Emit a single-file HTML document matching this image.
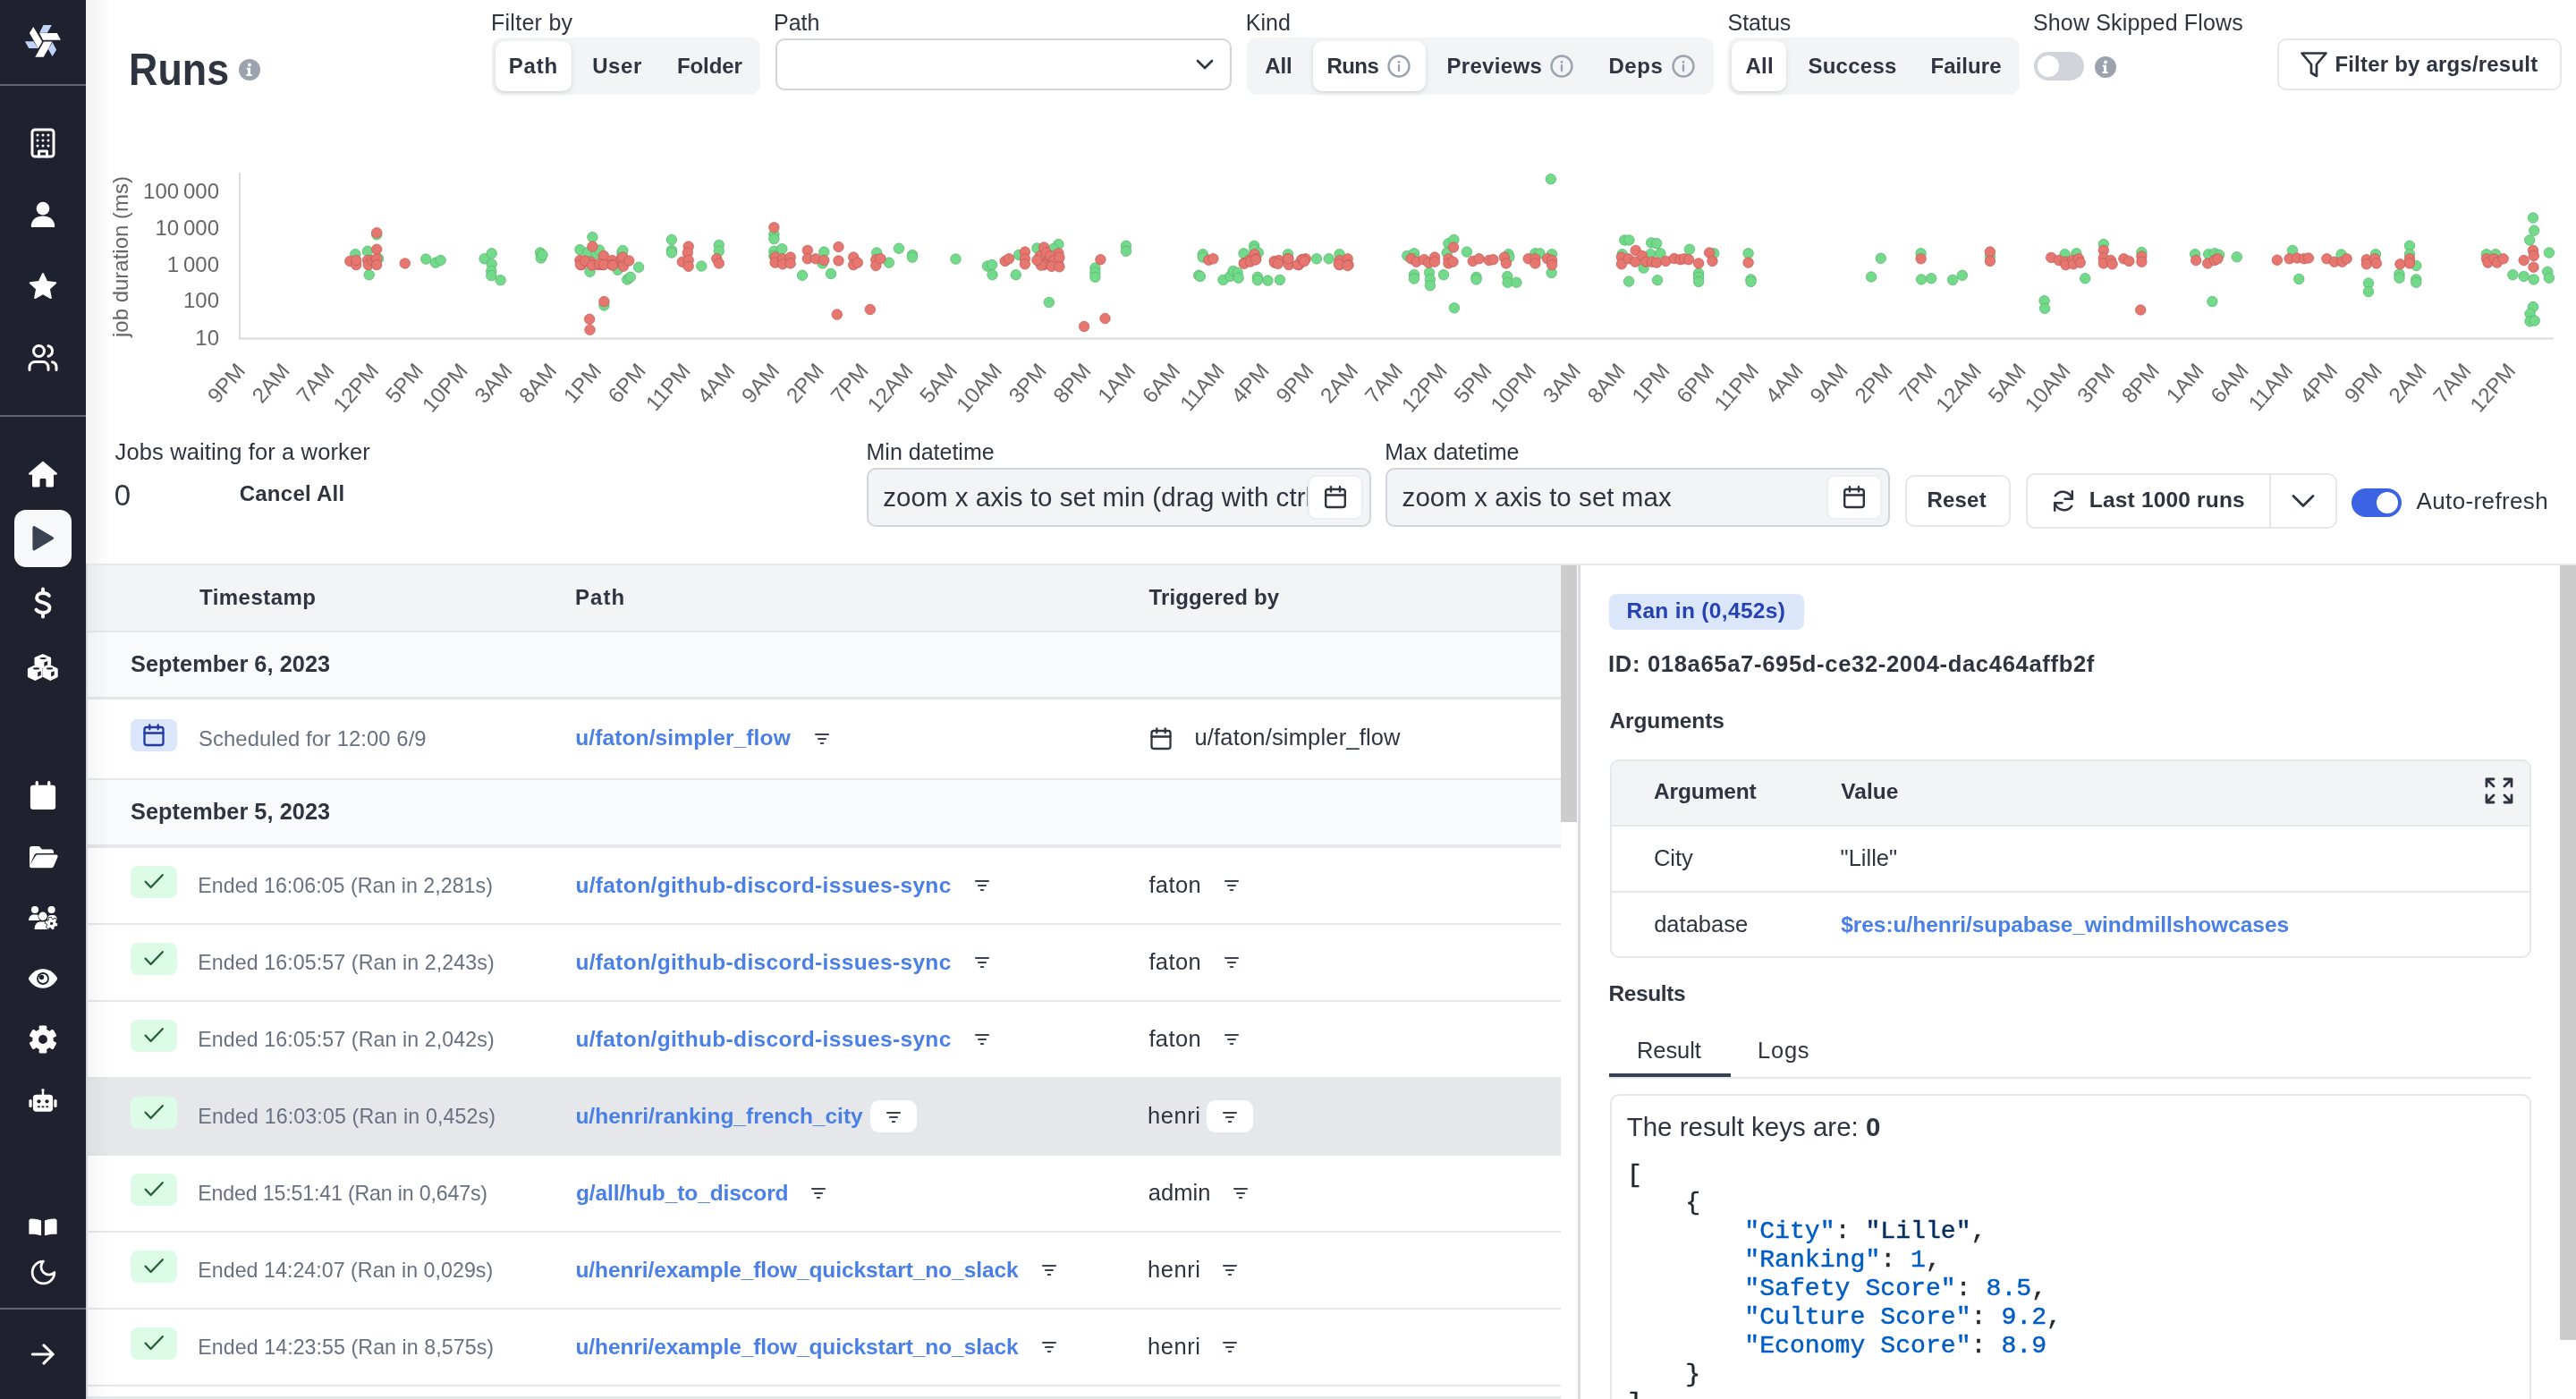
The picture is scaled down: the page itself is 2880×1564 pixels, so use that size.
<!DOCTYPE html>
<html><head><meta charset="utf-8"><title>Runs</title>
<style>
*{margin:0;padding:0;box-sizing:border-box}
html,body{width:2880px;height:1564px;overflow:hidden;background:#fff}
body{position:relative;font-family:"Liberation Sans",sans-serif;color:#2e3440}
.t{position:absolute;white-space:nowrap}
.r{position:absolute}
</style></head><body>

<div id="root" style="position:absolute;left:0;top:0;width:2880px;height:1564px;overflow:hidden;will-change:transform;transform-origin:0 0">
<div class="r" style="left:96px;top:630px;width:1670px;height:934px;background:#fff;"></div>
<div class="r" style="left:96px;top:630px;width:1670px;height:2px;background:#e5e7eb;"></div>
<div class="r" style="left:1766px;top:630px;width:1114px;height:2px;background:#e5e7eb;"></div>
<div class="r" style="left:98px;top:632px;width:1647px;height:73px;background:#f3f4f6;"></div>
<div class="r" style="left:98px;top:705px;width:1647px;height:2px;background:#e5e7eb;"></div>
<div class="r" style="left:98px;top:707px;width:1647px;height:72px;background:#f9fafb;"></div>
<div class="r" style="left:98px;top:779px;width:1647px;height:3px;background:#e5e7eb;"></div>
<div class="r" style="left:98px;top:870px;width:1647px;height:2px;background:#e5e7eb;"></div>
<div class="r" style="left:98px;top:872px;width:1647px;height:72px;background:#f9fafb;"></div>
<div class="r" style="left:98px;top:944px;width:1647px;height:4px;background:#e5e7eb;"></div>
<div class="r" style="left:98px;top:1032px;width:1647px;height:2px;background:#e5e7eb;"></div>
<div class="r" style="left:98px;top:1118px;width:1647px;height:2px;background:#e5e7eb;"></div>
<div class="r" style="left:98px;top:1204px;width:1647px;height:2px;background:#e5e7eb;"></div>
<div class="r" style="left:98px;top:1204px;width:1647px;height:86px;background:#e5e7eb;"></div>
<div class="r" style="left:98px;top:1290px;width:1647px;height:2px;background:#e5e7eb;"></div>
<div class="r" style="left:98px;top:1376px;width:1647px;height:2px;background:#e5e7eb;"></div>
<div class="r" style="left:98px;top:1462px;width:1647px;height:2px;background:#e5e7eb;"></div>
<div class="r" style="left:98px;top:1548px;width:1647px;height:2px;background:#e5e7eb;"></div>
<div class="r" style="left:98px;top:1561px;width:1647px;height:3px;background:#e5e7eb;"></div>
<div class="r" style="left:96px;top:630px;width:2px;height:934px;background:#d4d6db;"></div>
<div class="r" style="left:1745px;top:632px;width:18px;height:287px;background:#cccccc;"></div>
<div class="r" style="left:1764px;top:632px;width:3px;height:932px;background:#d9dbe0;"></div>
<div class="r" style="left:2862px;top:632px;width:18px;height:866px;background:#cccccc;"></div>
<div class="r" style="left:96px;top:0px;width:28px;height:630px;background:linear-gradient(90deg,rgba(0,0,0,0.05),rgba(0,0,0,0));"></div>
<div class="r" style="left:98px;top:632px;width:26px;height:932px;background:linear-gradient(90deg,rgba(0,0,0,0.035),rgba(0,0,0,0));"></div>
<div class="t" style="left:146.9px;top:52.6px;font-size:50px;line-height:50px;font-weight:700;transform-origin:0 0;transform:translateX(-2.91px) scaleX(0.8958)">Runs</div>
<svg class="r" style="left:267px;top:66px;" width="24" height="24" viewBox="0 0 24 24"><circle cx="12" cy="12" r="12" fill="#9ca3af"/><circle cx="12" cy="6.5" r="1.9" fill="#fff"/><path d="M8.8 9.8h4.2v7.2h1.6v1.9h-6.2v-1.9h1.6v-5.3h-1.2z" fill="#fff"/></svg>
<div class="t" style="left:549.0px;top:12.8px;font-size:25px;line-height:25px;letter-spacing:0.27px;">Filter by</div>
<div class="t" style="left:865.0px;top:12.8px;font-size:25px;line-height:25px;">Path</div>
<div class="t" style="left:1392.8px;top:12.8px;font-size:25px;line-height:25px;">Kind</div>
<div class="t" style="left:1931.5px;top:12.8px;font-size:25px;line-height:25px;">Status</div>
<div class="t" style="left:2272.9px;top:12.8px;font-size:25px;line-height:25px;letter-spacing:0.17px;">Show Skipped Flows</div>
<div class="r" style="left:550px;top:42px;width:300px;height:64px;background:#f3f4f6;border-radius:12px;"></div>
<div class="r" style="left:554px;top:46px;width:85px;height:56px;background:#fff;border-radius:10px;box-shadow:0 2px 6px rgba(0,0,0,0.10),0 1px 2px rgba(0,0,0,0.06);"></div>
<div class="r" style="left:1394px;top:42px;width:522px;height:64px;background:#f3f4f6;border-radius:12px;"></div>
<div class="r" style="left:1468px;top:46px;width:126px;height:56px;background:#fff;border-radius:10px;box-shadow:0 2px 6px rgba(0,0,0,0.10),0 1px 2px rgba(0,0,0,0.06);"></div>
<div class="r" style="left:1932px;top:42px;width:326px;height:64px;background:#f3f4f6;border-radius:12px;"></div>
<div class="r" style="left:1936px;top:46px;width:61px;height:56px;background:#fff;border-radius:10px;box-shadow:0 2px 6px rgba(0,0,0,0.10),0 1px 2px rgba(0,0,0,0.06);"></div>
<div class="t" style="left:568.8px;top:61.7px;font-size:24px;line-height:24px;font-weight:700;letter-spacing:0.78px;">Path</div>
<div class="t" style="left:662.2px;top:61.7px;font-size:24px;line-height:24px;font-weight:700;letter-spacing:0.60px;">User</div>
<div class="t" style="left:757.0px;top:61.7px;font-size:24px;line-height:24px;font-weight:700;letter-spacing:-0.12px;">Folder</div>
<div class="t" style="left:1414.2px;top:61.7px;font-size:24px;line-height:24px;font-weight:700;letter-spacing:-0.12px;">All</div>
<div class="t" style="left:1483.4px;top:61.7px;font-size:24px;line-height:24px;font-weight:700;letter-spacing:-0.53px;">Runs</div>
<div class="t" style="left:1617.4px;top:61.7px;font-size:24px;line-height:24px;font-weight:700;letter-spacing:0.34px;">Previews</div>
<div class="t" style="left:1798.4px;top:61.7px;font-size:24px;line-height:24px;font-weight:700;letter-spacing:0.57px;">Deps</div>
<div class="t" style="left:1951.4px;top:61.7px;font-size:24px;line-height:24px;font-weight:700;letter-spacing:0.28px;">All</div>
<div class="t" style="left:2021.4px;top:61.7px;font-size:24px;line-height:24px;font-weight:700;letter-spacing:0.27px;">Success</div>
<div class="t" style="left:2158.4px;top:61.7px;font-size:24px;line-height:24px;font-weight:700;letter-spacing:0.09px;">Failure</div>
<svg class="r" style="left:1551px;top:61px;" width="26" height="26" viewBox="0 0 26 26"><circle cx="13" cy="13" r="11.5" fill="none" stroke="#9ca3af" stroke-width="2.4"/><path d="M13 12v6" stroke="#9ca3af" stroke-width="2.4" stroke-linecap="round"/><circle cx="13" cy="8.3" r="1.4" fill="#9ca3af"/></svg>
<svg class="r" style="left:1733px;top:61px;" width="26" height="26" viewBox="0 0 26 26"><circle cx="13" cy="13" r="11.5" fill="none" stroke="#9ca3af" stroke-width="2.4"/><path d="M13 12v6" stroke="#9ca3af" stroke-width="2.4" stroke-linecap="round"/><circle cx="13" cy="8.3" r="1.4" fill="#9ca3af"/></svg>
<svg class="r" style="left:1869px;top:61px;" width="26" height="26" viewBox="0 0 26 26"><circle cx="13" cy="13" r="11.5" fill="none" stroke="#9ca3af" stroke-width="2.4"/><path d="M13 12v6" stroke="#9ca3af" stroke-width="2.4" stroke-linecap="round"/><circle cx="13" cy="8.3" r="1.4" fill="#9ca3af"/></svg>
<div class="r" style="left:867px;top:43px;width:510px;height:58px;background:#fff;border:2px solid #d1d5db;border-radius:10px;"></div>
<svg class="r" style="left:1335px;top:62px;" width="24" height="20" viewBox="0 0 24 20"><path d="M4 6l8 8 8-8" fill="none" stroke="#2e3440" stroke-width="2.6" stroke-linecap="round" stroke-linejoin="round"/></svg>
<div class="r" style="left:2274px;top:58px;width:56px;height:32px;background:#d1d5db;border-radius:16px;"></div>
<div class="r" style="left:2278px;top:62px;width:24px;height:24px;background:#fff;border-radius:50%;"></div>
<svg class="r" style="left:2342px;top:63px;" width="24" height="24" viewBox="0 0 24 24"><circle cx="12" cy="12" r="12" fill="#9ca3af"/><circle cx="12" cy="6.5" r="1.9" fill="#fff"/><path d="M8.8 9.8h4.2v7.2h1.6v1.9h-6.2v-1.9h1.6v-5.3h-1.2z" fill="#fff"/></svg>
<div class="r" style="left:2546px;top:43px;width:318px;height:58px;background:#fff;border:2px solid #e5e7eb;border-radius:10px;"></div>
<svg class="r" style="left:2570px;top:56px;" width="34" height="32" viewBox="0 0 34 32"><path d="M3.5 3.5h27l-10.5 12.5v13l-6-3.5v-9.5z" fill="none" stroke="#2e3440" stroke-width="2.7" stroke-linejoin="round"/></svg>
<div class="t" style="left:2610.4px;top:59.7px;font-size:24px;line-height:24px;font-weight:700;letter-spacing:0.20px;">Filter by args/result</div>
<div class="t" style="left:128.6px;top:493.1px;font-size:25.5px;line-height:25.5px;letter-spacing:0.13px;">Jobs waiting for a worker</div>
<div class="t" style="left:127.8px;top:537.1px;font-size:33px;line-height:33px;">0</div>
<div class="t" style="left:267.7px;top:539.7px;font-size:24px;line-height:24px;font-weight:700;letter-spacing:0.25px;">Cancel All</div>
<div class="t" style="left:968.5px;top:493.0px;font-size:25px;line-height:25px;">Min datetime</div>
<div class="r" style="left:969px;top:523px;width:564px;height:66px;background:#f3f4f6;border:2px solid #d1d5db;border-radius:10px;"></div>
<div class="r" style="left:986px;top:530px;width:476px;height:50px;overflow:hidden"><div class="t" style="left:1.2px;top:11.2px;font-size:29.5px;line-height:29.5px;letter-spacing:0.05px">zoom x axis to set min (drag with ctrl)</div></div>
<div class="r" style="left:1462px;top:531px;width:62px;height:50px;background:#fff;border:2px solid #eceef1;border-radius:9px;"></div>
<svg class="r" style="left:1479px;top:542px;" width="28" height="28" viewBox="0 0 28 28"><rect x="3.2" y="5" width="21.6" height="20" rx="2.6" fill="none" stroke="#2e3440" stroke-width="2.4"/><path d="M3.2 11.5h21.6M9 2.2v5.2M19 2.2v5.2" stroke="#2e3440" stroke-width="2.4" stroke-linecap="round"/></svg>
<div class="t" style="left:1548.3px;top:493.0px;font-size:25px;line-height:25px;">Max datetime</div>
<div class="r" style="left:1549px;top:523px;width:564px;height:66px;background:#f3f4f6;border:2px solid #d1d5db;border-radius:10px;"></div>
<div class="t" style="left:1567.6px;top:541.2px;font-size:29.5px;line-height:29.5px;letter-spacing:0.05px;">zoom x axis to set max</div>
<div class="r" style="left:2042px;top:531px;width:62px;height:50px;background:#fff;border:2px solid #eceef1;border-radius:9px;"></div>
<svg class="r" style="left:2059px;top:542px;" width="28" height="28" viewBox="0 0 28 28"><rect x="3.2" y="5" width="21.6" height="20" rx="2.6" fill="none" stroke="#2e3440" stroke-width="2.4"/><path d="M3.2 11.5h21.6M9 2.2v5.2M19 2.2v5.2" stroke="#2e3440" stroke-width="2.4" stroke-linecap="round"/></svg>
<div class="r" style="left:2130px;top:531px;width:118px;height:58px;background:#fff;border:2px solid #e5e7eb;border-radius:10px;"></div>
<div class="t" style="left:2154.4px;top:547.2px;font-size:24px;line-height:24px;font-weight:700;letter-spacing:0.23px;">Reset</div>
<div class="r" style="left:2265px;top:529px;width:348px;height:62px;background:#fff;border:2px solid #e5e7eb;border-radius:10px;"></div>
<div class="r" style="left:2537px;top:531px;width:2px;height:58px;background:#e5e7eb;"></div>
<svg class="r" style="left:2292px;top:546px;" width="30" height="28" viewBox="0 0 30 28"><path d="M24.5 11.5A10.5 10.5 0 0 0 5.8 8.3M5.5 16.5a10.5 10.5 0 0 0 18.7 3.2" fill="none" stroke="#2e3440" stroke-width="2.5" stroke-linecap="round"/><path d="M24.8 3.2v8.5h-8.3M5.2 24.8v-8.5h8.3" fill="none" stroke="#2e3440" stroke-width="2.5" stroke-linecap="round" stroke-linejoin="round"/></svg>
<div class="t" style="left:2335.8px;top:546.8px;font-size:24.5px;line-height:24.5px;font-weight:700;letter-spacing:0.18px;">Last 1000 runs</div>
<svg class="r" style="left:2561px;top:548px;" width="28" height="24" viewBox="0 0 28 24"><path d="M3 6.5l11 11 11-11" fill="none" stroke="#2e3440" stroke-width="2.8" stroke-linecap="round" stroke-linejoin="round"/></svg>
<div class="r" style="left:2629px;top:546px;width:56px;height:32px;background:#3b63e4;border-radius:16px;"></div>
<div class="r" style="left:2657px;top:550px;width:24px;height:24px;background:#fff;border-radius:50%;"></div>
<div class="t" style="left:2701.6px;top:547.4px;font-size:26px;line-height:26px;letter-spacing:0.36px;">Auto-refresh</div>
<div class="t" style="left:223.0px;top:655.7px;font-size:24px;line-height:24px;font-weight:700;letter-spacing:0.46px;">Timestamp</div>
<div class="t" style="left:643.0px;top:655.7px;font-size:24px;line-height:24px;font-weight:700;letter-spacing:1.05px;">Path</div>
<div class="t" style="left:1284.5px;top:655.7px;font-size:24px;line-height:24px;font-weight:700;letter-spacing:0.14px;">Triggered by</div>
<div class="t" style="left:146.0px;top:729.9px;font-size:25.3px;line-height:25.3px;font-weight:700;letter-spacing:0.06px;">September 6, 2023</div>
<div class="t" style="left:146.0px;top:895.2px;font-size:25.3px;line-height:25.3px;font-weight:700;letter-spacing:0.06px;">September 5, 2023</div>
<div class="r" style="left:146px;top:804px;width:52px;height:36px;background:#dbe6fb;border-radius:8px;"></div>
<svg class="r" style="left:158px;top:808px;" width="28" height="28" viewBox="0 0 28 28"><rect x="3.5" y="5" width="21" height="20" rx="2.4" fill="none" stroke="#2139a3" stroke-width="2.3"/><path d="M3.5 11.5h21M9.3 2.3v5M18.7 2.3v5" stroke="#2139a3" stroke-width="2.3" stroke-linecap="round"/></svg>
<div class="t" style="left:222.1px;top:813.6px;font-size:23.8px;line-height:23.8px;color:#687182;letter-spacing:0.08px;">Scheduled for 12:00 6/9</div>
<div class="t" style="left:643.2px;top:813.0px;font-size:24.5px;line-height:24.5px;font-weight:700;color:#4a80e6;letter-spacing:0.12px;">u/faton/simpler_flow</div>
<svg class="r" style="left:908px;top:815px;" width="22" height="22" viewBox="0 0 22 22"><path d="M4 6h14M7 11h8M9.8 16h2.4" stroke="#3b4252" stroke-width="2.1" stroke-linecap="round"/></svg>
<svg class="r" style="left:1284px;top:812px;" width="28" height="28" viewBox="0 0 28 28"><rect x="3.5" y="5" width="21" height="20" rx="2.4" fill="none" stroke="#2e3440" stroke-width="2.3"/><path d="M3.5 11.5h21M9.3 2.3v5M18.7 2.3v5" stroke="#2e3440" stroke-width="2.3" stroke-linecap="round"/></svg>
<div class="t" style="left:1335.5px;top:812.1px;font-size:25.5px;line-height:25.5px;letter-spacing:0.17px;">u/faton/simpler_flow</div>
<div class="r" style="left:146px;top:968px;width:52px;height:36px;background:#dcfce7;border-radius:8px;"></div>
<svg class="r" style="left:156px;top:970px;" width="32" height="32" viewBox="0 0 32 32"><path d="M25.8 8.2 L12.6 22 L6.7 15.7" fill="none" stroke="#245f36" stroke-width="2.3" stroke-linecap="round" stroke-linejoin="round"/></svg>
<div class="t" style="left:221.3px;top:979.3px;font-size:23.2px;line-height:23.2px;color:#687182;letter-spacing:0.03px;">Ended 16:06:05 (Ran in 2,281s)</div>
<div class="t" style="left:643.4px;top:978.2px;font-size:24.5px;line-height:24.5px;font-weight:700;color:#4a80e6;letter-spacing:0.35px;">u/faton/github-discord-issues-sync</div>
<div class="t" style="left:1284.4px;top:977.3px;font-size:25.5px;line-height:25.5px;letter-spacing:0.39px;">faton</div>
<svg class="r" style="left:1087px;top:979px;" width="22" height="22" viewBox="0 0 22 22"><path d="M4 6h14M7 11h8M9.8 16h2.4" stroke="#3b4252" stroke-width="2.1" stroke-linecap="round"/></svg>
<svg class="r" style="left:1366px;top:979px;" width="22" height="22" viewBox="0 0 22 22"><path d="M4 6h14M7 11h8M9.8 16h2.4" stroke="#3b4252" stroke-width="2.1" stroke-linecap="round"/></svg>
<div class="r" style="left:146px;top:1054px;width:52px;height:36px;background:#dcfce7;border-radius:8px;"></div>
<svg class="r" style="left:156px;top:1056px;" width="32" height="32" viewBox="0 0 32 32"><path d="M25.8 8.2 L12.6 22 L6.7 15.7" fill="none" stroke="#245f36" stroke-width="2.3" stroke-linecap="round" stroke-linejoin="round"/></svg>
<div class="t" style="left:221.3px;top:1065.3px;font-size:23.2px;line-height:23.2px;color:#687182;letter-spacing:0.09px;">Ended 16:05:57 (Ran in 2,243s)</div>
<div class="t" style="left:643.4px;top:1064.2px;font-size:24.5px;line-height:24.5px;font-weight:700;color:#4a80e6;letter-spacing:0.35px;">u/faton/github-discord-issues-sync</div>
<div class="t" style="left:1284.4px;top:1063.3px;font-size:25.5px;line-height:25.5px;letter-spacing:0.39px;">faton</div>
<svg class="r" style="left:1087px;top:1065px;" width="22" height="22" viewBox="0 0 22 22"><path d="M4 6h14M7 11h8M9.8 16h2.4" stroke="#3b4252" stroke-width="2.1" stroke-linecap="round"/></svg>
<svg class="r" style="left:1366px;top:1065px;" width="22" height="22" viewBox="0 0 22 22"><path d="M4 6h14M7 11h8M9.8 16h2.4" stroke="#3b4252" stroke-width="2.1" stroke-linecap="round"/></svg>
<div class="r" style="left:146px;top:1140px;width:52px;height:36px;background:#dcfce7;border-radius:8px;"></div>
<svg class="r" style="left:156px;top:1142px;" width="32" height="32" viewBox="0 0 32 32"><path d="M25.8 8.2 L12.6 22 L6.7 15.7" fill="none" stroke="#245f36" stroke-width="2.3" stroke-linecap="round" stroke-linejoin="round"/></svg>
<div class="t" style="left:221.3px;top:1151.3px;font-size:23.2px;line-height:23.2px;color:#687182;letter-spacing:0.09px;">Ended 16:05:57 (Ran in 2,042s)</div>
<div class="t" style="left:643.4px;top:1150.2px;font-size:24.5px;line-height:24.5px;font-weight:700;color:#4a80e6;letter-spacing:0.35px;">u/faton/github-discord-issues-sync</div>
<div class="t" style="left:1284.4px;top:1149.3px;font-size:25.5px;line-height:25.5px;letter-spacing:0.39px;">faton</div>
<svg class="r" style="left:1087px;top:1151px;" width="22" height="22" viewBox="0 0 22 22"><path d="M4 6h14M7 11h8M9.8 16h2.4" stroke="#3b4252" stroke-width="2.1" stroke-linecap="round"/></svg>
<svg class="r" style="left:1366px;top:1151px;" width="22" height="22" viewBox="0 0 22 22"><path d="M4 6h14M7 11h8M9.8 16h2.4" stroke="#3b4252" stroke-width="2.1" stroke-linecap="round"/></svg>
<div class="r" style="left:146px;top:1226px;width:52px;height:36px;background:#dcfce7;border-radius:8px;"></div>
<svg class="r" style="left:156px;top:1228px;" width="32" height="32" viewBox="0 0 32 32"><path d="M25.8 8.2 L12.6 22 L6.7 15.7" fill="none" stroke="#245f36" stroke-width="2.3" stroke-linecap="round" stroke-linejoin="round"/></svg>
<div class="t" style="left:221.3px;top:1237.3px;font-size:23.2px;line-height:23.2px;color:#687182;letter-spacing:0.14px;">Ended 16:03:05 (Ran in 0,452s)</div>
<div class="t" style="left:643.4px;top:1236.2px;font-size:24.5px;line-height:24.5px;font-weight:700;color:#4a80e6;letter-spacing:0.00px;">u/henri/ranking_french_city</div>
<div class="t" style="left:1283.0px;top:1235.3px;font-size:25.5px;line-height:25.5px;letter-spacing:0.55px;">henri</div>
<div class="r" style="left:973px;top:1230px;width:52px;height:36px;background:#fff;border-radius:10px;"></div>
<svg class="r" style="left:988px;top:1238px;" width="22" height="22" viewBox="0 0 22 22"><path d="M4 6h14M7 11h8M9.8 16h2.4" stroke="#3b4252" stroke-width="2.1" stroke-linecap="round"/></svg>
<div class="r" style="left:1349px;top:1230px;width:52px;height:36px;background:#fff;border-radius:10px;"></div>
<svg class="r" style="left:1364px;top:1238px;" width="22" height="22" viewBox="0 0 22 22"><path d="M4 6h14M7 11h8M9.8 16h2.4" stroke="#3b4252" stroke-width="2.1" stroke-linecap="round"/></svg>
<div class="r" style="left:146px;top:1312px;width:52px;height:36px;background:#dcfce7;border-radius:8px;"></div>
<svg class="r" style="left:156px;top:1314px;" width="32" height="32" viewBox="0 0 32 32"><path d="M25.8 8.2 L12.6 22 L6.7 15.7" fill="none" stroke="#245f36" stroke-width="2.3" stroke-linecap="round" stroke-linejoin="round"/></svg>
<div class="t" style="left:221.3px;top:1323.3px;font-size:23.2px;line-height:23.2px;color:#687182;letter-spacing:-0.17px;">Ended 15:51:41 (Ran in 0,647s)</div>
<div class="t" style="left:643.9px;top:1322.2px;font-size:24.5px;line-height:24.5px;font-weight:700;color:#4a80e6;letter-spacing:-0.10px;">g/all/hub_to_discord</div>
<div class="t" style="left:1283.7px;top:1321.3px;font-size:25.5px;line-height:25.5px;letter-spacing:0.09px;">admin</div>
<svg class="r" style="left:904px;top:1323px;" width="22" height="22" viewBox="0 0 22 22"><path d="M4 6h14M7 11h8M9.8 16h2.4" stroke="#3b4252" stroke-width="2.1" stroke-linecap="round"/></svg>
<svg class="r" style="left:1376px;top:1323px;" width="22" height="22" viewBox="0 0 22 22"><path d="M4 6h14M7 11h8M9.8 16h2.4" stroke="#3b4252" stroke-width="2.1" stroke-linecap="round"/></svg>
<div class="r" style="left:146px;top:1398px;width:52px;height:36px;background:#dcfce7;border-radius:8px;"></div>
<svg class="r" style="left:156px;top:1400px;" width="32" height="32" viewBox="0 0 32 32"><path d="M25.8 8.2 L12.6 22 L6.7 15.7" fill="none" stroke="#245f36" stroke-width="2.3" stroke-linecap="round" stroke-linejoin="round"/></svg>
<div class="t" style="left:221.3px;top:1409.3px;font-size:23.2px;line-height:23.2px;color:#687182;letter-spacing:0.04px;">Ended 14:24:07 (Ran in 0,029s)</div>
<div class="t" style="left:643.4px;top:1408.2px;font-size:24.5px;line-height:24.5px;font-weight:700;color:#4a80e6;letter-spacing:-0.08px;">u/henri/example_flow_quickstart_no_slack</div>
<div class="t" style="left:1283.0px;top:1407.3px;font-size:25.5px;line-height:25.5px;letter-spacing:0.55px;">henri</div>
<svg class="r" style="left:1162px;top:1409px;" width="22" height="22" viewBox="0 0 22 22"><path d="M4 6h14M7 11h8M9.8 16h2.4" stroke="#3b4252" stroke-width="2.1" stroke-linecap="round"/></svg>
<svg class="r" style="left:1364px;top:1409px;" width="22" height="22" viewBox="0 0 22 22"><path d="M4 6h14M7 11h8M9.8 16h2.4" stroke="#3b4252" stroke-width="2.1" stroke-linecap="round"/></svg>
<div class="r" style="left:146px;top:1484px;width:52px;height:36px;background:#dcfce7;border-radius:8px;"></div>
<svg class="r" style="left:156px;top:1486px;" width="32" height="32" viewBox="0 0 32 32"><path d="M25.8 8.2 L12.6 22 L6.7 15.7" fill="none" stroke="#245f36" stroke-width="2.3" stroke-linecap="round" stroke-linejoin="round"/></svg>
<div class="t" style="left:221.3px;top:1495.3px;font-size:23.2px;line-height:23.2px;color:#687182;letter-spacing:0.07px;">Ended 14:23:55 (Ran in 8,575s)</div>
<div class="t" style="left:643.4px;top:1494.2px;font-size:24.5px;line-height:24.5px;font-weight:700;color:#4a80e6;letter-spacing:-0.08px;">u/henri/example_flow_quickstart_no_slack</div>
<div class="t" style="left:1283.0px;top:1493.3px;font-size:25.5px;line-height:25.5px;letter-spacing:0.55px;">henri</div>
<svg class="r" style="left:1162px;top:1495px;" width="22" height="22" viewBox="0 0 22 22"><path d="M4 6h14M7 11h8M9.8 16h2.4" stroke="#3b4252" stroke-width="2.1" stroke-linecap="round"/></svg>
<svg class="r" style="left:1364px;top:1495px;" width="22" height="22" viewBox="0 0 22 22"><path d="M4 6h14M7 11h8M9.8 16h2.4" stroke="#3b4252" stroke-width="2.1" stroke-linecap="round"/></svg>
<div class="r" style="left:1799px;top:664px;width:218px;height:40px;background:#dce6fb;border-radius:8px;"></div>
<div class="t" style="left:1818.4px;top:671.3px;font-size:24.5px;line-height:24.5px;font-weight:700;color:#2541b2;letter-spacing:0.33px;">Ran in (0,452s)</div>
<div class="t" style="left:1798.1px;top:730.0px;font-size:25.6px;line-height:25.6px;font-weight:700;letter-spacing:0.65px;">ID: 018a65a7-695d-ce32-2004-dac464affb2f</div>
<div class="t" style="left:1799.4px;top:794.3px;font-size:24.5px;line-height:24.5px;font-weight:700;letter-spacing:-0.10px;">Arguments</div>
<div class="r" style="left:1800px;top:849px;width:1030px;height:222px;background:#fff;border:2px solid #e5e7eb;border-radius:10px;overflow:hidden;"></div>
<div class="r" style="left:1802px;top:851px;width:1026px;height:71px;background:#f3f4f6;border-radius:8px 8px 0 0;"></div>
<div class="r" style="left:1802px;top:922px;width:1026px;height:2px;background:#e5e7eb;"></div>
<div class="r" style="left:1802px;top:996px;width:1026px;height:2px;background:#e5e7eb;"></div>
<div class="t" style="left:1849.0px;top:873.3px;font-size:24.5px;line-height:24.5px;font-weight:700;letter-spacing:-0.13px;">Argument</div>
<div class="t" style="left:2058.3px;top:873.3px;font-size:24.5px;line-height:24.5px;font-weight:700;letter-spacing:0.03px;">Value</div>
<svg class="r" style="left:2776px;top:867px;" width="36" height="34" viewBox="0 0 36 34"><path d="M4 12V4h8M4 4l8 8M24 4h8v8M32 4l-8 8M4 22v8h8M4 30l8-8M32 22v8h-8M32 30l-8-8" fill="none" stroke="#2e3440" stroke-width="2.8" stroke-linecap="round" stroke-linejoin="round"/></svg>
<div class="t" style="left:1848.9px;top:947.4px;font-size:25.5px;line-height:25.5px;">City</div>
<div class="t" style="left:2057.6px;top:947.4px;font-size:25.5px;line-height:25.5px;">&quot;Lille&quot;</div>
<div class="t" style="left:1849.2px;top:1021.3px;font-size:25.5px;line-height:25.5px;">database</div>
<div class="t" style="left:2058.2px;top:1022.2px;font-size:24.5px;line-height:24.5px;font-weight:700;color:#4a80e6;letter-spacing:-0.04px;">$res:u/henri/supabase_windmillshowcases</div>
<div class="t" style="left:1798.4px;top:1098.8px;font-size:24.5px;line-height:24.5px;font-weight:700;letter-spacing:-0.37px;">Results</div>
<div class="t" style="left:1830.0px;top:1161.9px;font-size:25.5px;line-height:25.5px;letter-spacing:-0.08px;">Result</div>
<div class="t" style="left:1965.0px;top:1161.9px;font-size:25.5px;line-height:25.5px;letter-spacing:0.77px;">Logs</div>
<div class="r" style="left:1799px;top:1204px;width:1031px;height:2px;background:#e5e7eb;"></div>
<div class="r" style="left:1799px;top:1200px;width:136px;height:4px;background:#374151;"></div>
<div class="r" style="left:1800px;top:1223px;width:1030px;height:377px;background:#fff;border:2px solid #e5e7eb;border-radius:10px;"></div>
<div class="t" style="left:1818.7px;top:1244.6px;font-size:29.5px;line-height:29.5px;">The result keys are: <b>0</b></div>
<div class="t" style="left:1819.1px;top:1299.5px;font-family:'Liberation Mono',monospace;font-size:28.15px;line-height:28.15px;white-space:pre;-webkit-text-stroke:0.45px"><span style="color:#24292e">[</span></div>
<div class="t" style="left:1884.2px;top:1331.4px;font-family:'Liberation Mono',monospace;font-size:28.15px;line-height:28.15px;white-space:pre;-webkit-text-stroke:0.45px"><span style="color:#24292e">{</span></div>
<div class="t" style="left:1950.3px;top:1363.3px;font-family:'Liberation Mono',monospace;font-size:28.15px;line-height:28.15px;white-space:pre;-webkit-text-stroke:0.45px"><span style="color:#005cc5">&quot;City&quot;</span><span style="color:#24292e">: </span><span style="color:#032f62">&quot;Lille&quot;</span><span style="color:#24292e">,</span></div>
<div class="t" style="left:1950.3px;top:1395.2px;font-family:'Liberation Mono',monospace;font-size:28.15px;line-height:28.15px;white-space:pre;-webkit-text-stroke:0.45px"><span style="color:#005cc5">&quot;Ranking&quot;</span><span style="color:#24292e">: </span><span style="color:#005cc5">1</span><span style="color:#24292e">,</span></div>
<div class="t" style="left:1950.3px;top:1427.1px;font-family:'Liberation Mono',monospace;font-size:28.15px;line-height:28.15px;white-space:pre;-webkit-text-stroke:0.45px"><span style="color:#005cc5">&quot;Safety Score&quot;</span><span style="color:#24292e">: </span><span style="color:#005cc5">8.5</span><span style="color:#24292e">,</span></div>
<div class="t" style="left:1950.3px;top:1459.0px;font-family:'Liberation Mono',monospace;font-size:28.15px;line-height:28.15px;white-space:pre;-webkit-text-stroke:0.45px"><span style="color:#005cc5">&quot;Culture Score&quot;</span><span style="color:#24292e">: </span><span style="color:#005cc5">9.2</span><span style="color:#24292e">,</span></div>
<div class="t" style="left:1950.3px;top:1490.9px;font-family:'Liberation Mono',monospace;font-size:28.15px;line-height:28.15px;white-space:pre;-webkit-text-stroke:0.45px"><span style="color:#005cc5">&quot;Economy Score&quot;</span><span style="color:#24292e">: </span><span style="color:#005cc5">8.9</span></div>
<div class="t" style="left:1884.2px;top:1522.8px;font-family:'Liberation Mono',monospace;font-size:28.15px;line-height:28.15px;white-space:pre;-webkit-text-stroke:0.45px"><span style="color:#24292e">}</span></div>
<div class="t" style="left:1819.1px;top:1554.7px;font-family:'Liberation Mono',monospace;font-size:28.15px;line-height:28.15px;white-space:pre;-webkit-text-stroke:0.45px"><span style="color:#24292e">]</span></div>
<div class="r" style="left:0px;top:0px;width:96px;height:1564px;background:#1f222e;"></div>
<div class="r" style="left:0px;top:94px;width:96px;height:2px;background:#5f6573;"></div>
<div class="r" style="left:0px;top:464px;width:96px;height:2px;background:#5f6573;"></div>
<div class="r" style="left:0px;top:1462px;width:96px;height:2px;background:#5f6573;"></div>
<svg class="r" style="left:16px;top:16px;" width="64" height="64" viewBox="0 0 1399 1399"><polygon points="710.0,265.0 915.0,265.0 805.0,455.0 615.0,455.0" fill="#bfd3f8"/><polygon points="260.0,660.0 470.0,660.0 585.0,830.0 355.0,830.0" fill="#bfd3f8"/><polygon points="935.0,690.0 1030.0,870.0 930.0,1025.0 830.0,850.0" fill="#bfd3f8"/><polygon points="465.0,305.0 680.0,665.0 585.0,830.0 370.0,460.0" fill="#ffffff"/><polygon points="615.0,460.0 1045.0,460.0 1135.0,630.0 700.0,630.0" fill="#ffffff"/><polygon points="720.0,665.0 930.0,665.0 715.0,1045.0 510.0,1045.0" fill="#ffffff"/></svg>
<svg class="r" style="left:30px;top:142px;" width="36" height="36" viewBox="0 0 24 24"><g fill="none" stroke="#fff" stroke-width="2" stroke-linecap="round" stroke-linejoin="round"><rect x="4" y="2" width="16" height="20" rx="2"/><path d="M9 22v-4h6v4"/><path d="M8 6h.01M12 6h.01M16 6h.01M8 10h.01M12 10h.01M16 10h.01M8 14h.01M12 14h.01M16 14h.01"/></g></svg>
<svg class="r" style="left:30px;top:222px;" width="36" height="36" viewBox="0 0 24 24"><circle cx="12" cy="7.4" r="4.9" fill="#fff"/><path d="M3.2 20.6c0-4.6 3.9-7.6 8.8-7.6s8.8 3 8.8 7.6c0 .5-.3.8-.8.8H4c-.5 0-.8-.3-.8-.8z" fill="#fff"/></svg>
<svg class="r" style="left:30px;top:302px;" width="36" height="36" viewBox="0 0 24 24"><path d="M12 2.6l2.9 6.1 6.6.8-4.9 4.6 1.3 6.6L12 17.4l-5.9 3.3 1.3-6.6-4.9-4.6 6.6-.8z" fill="#fff" stroke="#fff" stroke-width="1.3" stroke-linejoin="round"/></svg>
<svg class="r" style="left:30px;top:382px;" width="36" height="36" viewBox="0 0 24 24"><g fill="none" stroke="#fff" stroke-width="2" stroke-linecap="round" stroke-linejoin="round"><path d="M16 21v-2a4 4 0 0 0-4-4H6a4 4 0 0 0-4 4v2"/><circle cx="9" cy="7" r="4"/><path d="M22 21v-2a4 4 0 0 0-3-3.87"/><path d="M16 3.13a4 4 0 0 1 0 7.75"/></g></svg>
<svg class="r" style="left:30px;top:512px;" width="36" height="36" viewBox="0 0 24 24"><path d="M12 2.4L1.6 11.2c-.5.5-.2 1.3.5 1.3H4v8c0 .7.5 1.2 1.2 1.2h3.6c.5 0 .9-.4.9-.9v-4.4c0-.6.4-1 1-1h2.6c.6 0 1 .4 1 1v4.4c0 .5.4.9.9.9h3.6c.7 0 1.2-.5 1.2-1.2v-8h1.9c.7 0 1-.8.5-1.3z" fill="#fff"/></svg>
<div class="r" style="left:16px;top:570px;width:64px;height:64px;background:#f7f8fa;border-radius:13px;"></div>
<svg class="r" style="left:32px;top:586px;" width="32" height="32" viewBox="0 0 32 32"><path d="M6.0 3.6 L26.4 15.6 L6.0 27.8 Z" fill="#3b4252" stroke="#3b4252" stroke-width="3.2" stroke-linejoin="round"/></svg>
<svg class="r" style="left:30px;top:656px;" width="36" height="36" viewBox="0 0 24 24"><g fill="none" stroke="#fff" stroke-width="2.6" stroke-linecap="round" stroke-linejoin="round"><path d="M12 1.6v3.2M12 19.2v3.2"/><path d="M16.6 6.6c-.9-1.2-2.6-1.9-4.6-1.9-2.7 0-4.6 1.4-4.6 3.4 0 4.8 9.6 2.6 9.6 7.8 0 2.1-2.1 3.4-5 3.4-2.2 0-4-.8-5-2.2"/></g></svg>
<svg class="r" style="left:28px;top:726px;" width="40" height="40" viewBox="0 0 40 40"><g fill="#fff" stroke="#fff" stroke-width="2.2" stroke-linejoin="round"><path d="M19.8 6.2 L28.0 9.8 L28.0 16.599999999999998 L19.8 20.2 L11.600000000000001 16.599999999999998 L11.600000000000001 9.8 Z"/><path d="M11.3 18.4 L18.6 22.0 L18.6 30.199999999999996 L11.3 33.8 L4.000000000000001 30.199999999999996 L4.000000000000001 22.0 Z"/><path d="M28.3 18.4 L35.6 22.0 L35.6 30.199999999999996 L28.3 33.8 L21.0 30.199999999999996 L21.0 22.0 Z"/></g><g fill="#1f222e"><ellipse cx="20.2" cy="10" rx="3.6" ry="1.1"/><ellipse cx="12.6" cy="21.4" rx="3.6" ry="1.1"/><ellipse cx="27.5" cy="21.4" rx="3.6" ry="1.1"/><path d="M21.4 14.4 L25.2 13.1 L25.2 17.3 L21.4 18.9 Z"/><path d="M14.2 25.6 L17.8 24.2 L17.8 28.7 L14.2 30.5 Z"/><path d="M29.1 25.6 L32.7 24.2 L32.7 28.7 L29.1 30.5 Z"/><path d="M19.6 31.2 L20.6 31.2 L20.1 34.6 Z"/></g></svg>
<svg class="r" style="left:30px;top:872px;" width="36" height="36" viewBox="0 0 24 24"><path d="M7.5 1.8v3M16.5 1.8v3" stroke="#fff" stroke-width="2.2" stroke-linecap="round"/><rect x="2.6" y="3.8" width="18.8" height="18.2" rx="2.2" fill="#fff"/><path d="M7.5 1.6v4.2M16.5 1.6v4.2" stroke="#1f222e" stroke-width="0.9" stroke-opacity="0"/></svg>
<svg class="r" style="left:30px;top:940px;" width="36" height="36" viewBox="0 0 24 24"><path d="M2 18.5V5.8c0-1 .8-1.8 1.8-1.8h4.6c.6 0 1.1.3 1.5.7l1.3 1.6h7c1 0 1.8.8 1.8 1.8v1.2H7.6c-.9 0-1.7.5-2 1.3z" fill="#fff"/><path d="M6.5 11.4c.3-.7 1-1.1 1.7-1.1h13.6c.9 0 1.5.9 1.2 1.7l-3 7c-.3.7-1 1.1-1.7 1.1H3.2c-.9 0-1.5-.9-1.2-1.7z" fill="#fff"/></svg>
<svg class="r" style="left:28px;top:1006px;" width="40" height="40" viewBox="0 0 40 40"><g fill="#fff"><circle cx="11" cy="11" r="4.1"/><circle cx="29.6" cy="11" r="4.1"/><path d="M4 23.1 C4 19 6.6 16.4 9.8 16.4 L12.4 16.4 C15 16.4 16.4 18.5 16.4 21 L16.4 23.1 Z"/><path d="M25.2 23.1 L25.2 21 C25.2 18.5 26.8 16.9 29.4 16.9 L31.4 16.9 C34 16.9 35.7 19 35.7 21.5 L35.7 23.1 Z"/></g><g fill="#fff" stroke="#1f222e" stroke-width="1.5" paint-order="stroke"><circle cx="19.9" cy="18.3" r="4.7"/><path d="M10.6 32.9 C10.6 28 13.2 24.6 17 24.6 L22.6 24.6 C25.6 24.6 27 27 27 30 L27 32.9 Z"/><path d="M36.49 26.83 L35.78 29.47 L33.77 29.16 L32.36 30.57 L32.67 32.58 L30.03 33.29 L29.29 31.39 L27.37 30.88 L25.79 32.15 L23.85 30.21 L25.12 28.63 L24.61 26.71 L22.71 25.97 L23.42 23.33 L25.43 23.64 L26.84 22.23 L26.53 20.22 L29.17 19.51 L29.91 21.41 L31.83 21.92 L33.41 20.65 L35.35 22.59 L34.08 24.17 L34.59 26.09Z" stroke-linejoin="round"/></g><circle cx="29.6" cy="26.4" r="1.6" fill="#1f222e"/></svg>
<svg class="r" style="left:30px;top:1076px;" width="36" height="36" viewBox="0 0 24 24"><path d="M12 4.8C6.6 4.8 2.7 8.6 1.2 12c1.5 3.4 5.4 7.2 10.8 7.2s9.3-3.8 10.8-7.2C21.3 8.6 17.4 4.8 12 4.8z" fill="#fff"/><circle cx="12" cy="12" r="4.6" fill="#1f222e"/><circle cx="12" cy="12" r="3.4" fill="#fff"/><circle cx="11" cy="11" r="1.8" fill="#1f222e"/><circle cx="12" cy="12" r="3.4" fill="none" stroke="#fff" stroke-width="0"/></svg>
<svg class="r" style="left:30px;top:1144px;" width="36" height="36" viewBox="0 0 24 24"><path d="M20.91 14.99 L19.04 18.22 L17.14 16.76 L13.55 18.83 L13.87 21.21 L10.13 21.21 L10.45 18.83 L6.86 16.76 L4.96 18.22 L3.09 14.99 L5.31 14.07 L5.31 9.93 L3.09 9.01 L4.96 5.78 L6.86 7.24 L10.45 5.17 L10.13 2.79 L13.87 2.79 L13.55 5.17 L17.14 7.24 L19.04 5.78 L20.91 9.01 L18.69 9.93 L18.69 14.07Z" fill="#fff" stroke="#fff" stroke-width="2.2" stroke-linejoin="round"/><circle cx="12" cy="12" r="3.3" fill="#1f222e"/></svg>
<svg class="r" style="left:30px;top:1216px;" width="36" height="36" viewBox="0 0 24 24"><g fill="#fff"><rect x="4.6" y="5.2" width="14.8" height="12.6" rx="2.4"/><rect x="1.6" y="8.6" width="2.2" height="6" rx="1"/><rect x="20.2" y="8.6" width="2.2" height="6" rx="1"/><path d="M11.2 2h1.6v3.4h-1.6z"/><circle cx="12" cy="1.8" r="1.1"/></g><g fill="#1f222e"><circle cx="9" cy="10.2" r="1.4"/><circle cx="15" cy="10.2" r="1.4"/><rect x="8" y="13.6" width="1.8" height="1.2"/><rect x="11.1" y="13.6" width="1.8" height="1.2"/><rect x="14.2" y="13.6" width="1.8" height="1.2"/></g></svg>
<svg class="r" style="left:30px;top:1354px;" width="36" height="36" viewBox="0 0 24 24"><g fill="#fff"><path d="M1.6 7.3c0-.9.6-1.6 1.5-1.6 2.6-.2 5.2.3 7.6 1.3v11.2c-2.5-.9-5.5-1.2-9.1-1z"/><path d="M22.4 7.3c0-.9-.6-1.6-1.5-1.6-2.6-.2-5.2.3-7.6 1.3v11.2c2.5-.9 5.5-1.2 9.1-1z"/></g></svg>
<svg class="r" style="left:32px;top:1406px;" width="33" height="33" viewBox="0 0 24 24"><g fill="none" stroke="#fff" stroke-width="2" stroke-linecap="round" stroke-linejoin="round" stroke-width="2.2"><path d="M12 3a6 6 0 0 0 9 9 9 9 0 1 1-9-9Z"/></g></svg>
<svg class="r" style="left:30px;top:1496px;" width="36" height="36" viewBox="0 0 24 24"><g fill="none" stroke="#fff" stroke-width="2" stroke-linecap="round" stroke-linejoin="round" stroke-width="2.6"><path d="M4.2 12h15.3M12.6 5.3l6.9 6.7-6.9 6.7"/></g></svg>
<svg class="r" style="left:0;top:0;font-family:'Liberation Sans',sans-serif" width="2880" height="470" viewBox="0 0 2880 470"><line x1="268" y1="193" x2="268" y2="379.6" stroke="#dcdcdc" stroke-width="2"/><line x1="267" y1="378.6" x2="2855" y2="378.6" stroke="#dcdcdc" stroke-width="2"/><text x="245" y="222" text-anchor="end" font-size="24" fill="#666">100 000</text><text x="245" y="263" text-anchor="end" font-size="24" fill="#666">10 000</text><text x="245" y="303.6" text-anchor="end" font-size="24" fill="#666">1 000</text><text x="245" y="344.4" text-anchor="end" font-size="24" fill="#666">100</text><text x="245" y="386" text-anchor="end" font-size="24" fill="#666">10</text><text transform="translate(142.6,287) rotate(-90)" text-anchor="middle" font-size="24" fill="#666">job duration (ms)</text><text transform="translate(275.3,415.1) rotate(-49)" text-anchor="end" font-size="24" fill="#666">9PM</text><text transform="translate(325.1,415.1) rotate(-49)" text-anchor="end" font-size="24" fill="#666">2AM</text><text transform="translate(374.8,415.1) rotate(-49)" text-anchor="end" font-size="24" fill="#666">7AM</text><text transform="translate(424.6,415.1) rotate(-49)" text-anchor="end" font-size="24" fill="#666">12PM</text><text transform="translate(474.4,415.1) rotate(-49)" text-anchor="end" font-size="24" fill="#666">5PM</text><text transform="translate(524.2,415.1) rotate(-49)" text-anchor="end" font-size="24" fill="#666">10PM</text><text transform="translate(573.9,415.1) rotate(-49)" text-anchor="end" font-size="24" fill="#666">3AM</text><text transform="translate(623.7,415.1) rotate(-49)" text-anchor="end" font-size="24" fill="#666">8AM</text><text transform="translate(673.5,415.1) rotate(-49)" text-anchor="end" font-size="24" fill="#666">1PM</text><text transform="translate(723.2,415.1) rotate(-49)" text-anchor="end" font-size="24" fill="#666">6PM</text><text transform="translate(773.0,415.1) rotate(-49)" text-anchor="end" font-size="24" fill="#666">11PM</text><text transform="translate(822.8,415.1) rotate(-49)" text-anchor="end" font-size="24" fill="#666">4AM</text><text transform="translate(872.5,415.1) rotate(-49)" text-anchor="end" font-size="24" fill="#666">9AM</text><text transform="translate(922.3,415.1) rotate(-49)" text-anchor="end" font-size="24" fill="#666">2PM</text><text transform="translate(972.1,415.1) rotate(-49)" text-anchor="end" font-size="24" fill="#666">7PM</text><text transform="translate(1021.9,415.1) rotate(-49)" text-anchor="end" font-size="24" fill="#666">12AM</text><text transform="translate(1071.6,415.1) rotate(-49)" text-anchor="end" font-size="24" fill="#666">5AM</text><text transform="translate(1121.4,415.1) rotate(-49)" text-anchor="end" font-size="24" fill="#666">10AM</text><text transform="translate(1171.2,415.1) rotate(-49)" text-anchor="end" font-size="24" fill="#666">3PM</text><text transform="translate(1220.9,415.1) rotate(-49)" text-anchor="end" font-size="24" fill="#666">8PM</text><text transform="translate(1270.7,415.1) rotate(-49)" text-anchor="end" font-size="24" fill="#666">1AM</text><text transform="translate(1320.5,415.1) rotate(-49)" text-anchor="end" font-size="24" fill="#666">6AM</text><text transform="translate(1370.2,415.1) rotate(-49)" text-anchor="end" font-size="24" fill="#666">11AM</text><text transform="translate(1420.0,415.1) rotate(-49)" text-anchor="end" font-size="24" fill="#666">4PM</text><text transform="translate(1469.8,415.1) rotate(-49)" text-anchor="end" font-size="24" fill="#666">9PM</text><text transform="translate(1519.5,415.1) rotate(-49)" text-anchor="end" font-size="24" fill="#666">2AM</text><text transform="translate(1569.3,415.1) rotate(-49)" text-anchor="end" font-size="24" fill="#666">7AM</text><text transform="translate(1619.1,415.1) rotate(-49)" text-anchor="end" font-size="24" fill="#666">12PM</text><text transform="translate(1668.9,415.1) rotate(-49)" text-anchor="end" font-size="24" fill="#666">5PM</text><text transform="translate(1718.6,415.1) rotate(-49)" text-anchor="end" font-size="24" fill="#666">10PM</text><text transform="translate(1768.4,415.1) rotate(-49)" text-anchor="end" font-size="24" fill="#666">3AM</text><text transform="translate(1818.2,415.1) rotate(-49)" text-anchor="end" font-size="24" fill="#666">8AM</text><text transform="translate(1867.9,415.1) rotate(-49)" text-anchor="end" font-size="24" fill="#666">1PM</text><text transform="translate(1917.7,415.1) rotate(-49)" text-anchor="end" font-size="24" fill="#666">6PM</text><text transform="translate(1967.5,415.1) rotate(-49)" text-anchor="end" font-size="24" fill="#666">11PM</text><text transform="translate(2017.2,415.1) rotate(-49)" text-anchor="end" font-size="24" fill="#666">4AM</text><text transform="translate(2067.0,415.1) rotate(-49)" text-anchor="end" font-size="24" fill="#666">9AM</text><text transform="translate(2116.8,415.1) rotate(-49)" text-anchor="end" font-size="24" fill="#666">2PM</text><text transform="translate(2166.6,415.1) rotate(-49)" text-anchor="end" font-size="24" fill="#666">7PM</text><text transform="translate(2216.3,415.1) rotate(-49)" text-anchor="end" font-size="24" fill="#666">12AM</text><text transform="translate(2266.1,415.1) rotate(-49)" text-anchor="end" font-size="24" fill="#666">5AM</text><text transform="translate(2315.9,415.1) rotate(-49)" text-anchor="end" font-size="24" fill="#666">10AM</text><text transform="translate(2365.6,415.1) rotate(-49)" text-anchor="end" font-size="24" fill="#666">3PM</text><text transform="translate(2415.4,415.1) rotate(-49)" text-anchor="end" font-size="24" fill="#666">8PM</text><text transform="translate(2465.2,415.1) rotate(-49)" text-anchor="end" font-size="24" fill="#666">1AM</text><text transform="translate(2515.0,415.1) rotate(-49)" text-anchor="end" font-size="24" fill="#666">6AM</text><text transform="translate(2564.7,415.1) rotate(-49)" text-anchor="end" font-size="24" fill="#666">11AM</text><text transform="translate(2614.5,415.1) rotate(-49)" text-anchor="end" font-size="24" fill="#666">4PM</text><text transform="translate(2664.3,415.1) rotate(-49)" text-anchor="end" font-size="24" fill="#666">9PM</text><text transform="translate(2714.0,415.1) rotate(-49)" text-anchor="end" font-size="24" fill="#666">2AM</text><text transform="translate(2763.8,415.1) rotate(-49)" text-anchor="end" font-size="24" fill="#666">7AM</text><text transform="translate(2813.6,415.1) rotate(-49)" text-anchor="end" font-size="24" fill="#666">12PM</text><circle cx="397.3" cy="284.2" r="5.75" fill="#74da8b" stroke="#52b068" stroke-width="0.7"/><circle cx="411.0" cy="280.8" r="5.75" fill="#74da8b" stroke="#52b068" stroke-width="0.7"/><circle cx="423.0" cy="289.0" r="5.75" fill="#74da8b" stroke="#52b068" stroke-width="0.7"/><circle cx="421.2" cy="262.3" r="5.75" fill="#74da8b" stroke="#52b068" stroke-width="0.7"/><circle cx="412.7" cy="307.2" r="5.75" fill="#74da8b" stroke="#52b068" stroke-width="0.7"/><circle cx="476.2" cy="289.6" r="5.75" fill="#74da8b" stroke="#52b068" stroke-width="0.7"/><circle cx="487.0" cy="293.6" r="5.75" fill="#74da8b" stroke="#52b068" stroke-width="0.7"/><circle cx="492.6" cy="291.0" r="5.75" fill="#74da8b" stroke="#52b068" stroke-width="0.7"/><circle cx="541.6" cy="289.3" r="5.75" fill="#74da8b" stroke="#52b068" stroke-width="0.7"/><circle cx="549.7" cy="283.3" r="5.75" fill="#74da8b" stroke="#52b068" stroke-width="0.7"/><circle cx="549.7" cy="295.3" r="5.75" fill="#74da8b" stroke="#52b068" stroke-width="0.7"/><circle cx="549.3" cy="303.0" r="5.75" fill="#74da8b" stroke="#52b068" stroke-width="0.7"/><circle cx="549.3" cy="308.1" r="5.75" fill="#74da8b" stroke="#52b068" stroke-width="0.7"/><circle cx="559.6" cy="313.2" r="5.75" fill="#74da8b" stroke="#52b068" stroke-width="0.7"/><circle cx="604.0" cy="282.5" r="5.75" fill="#74da8b" stroke="#52b068" stroke-width="0.7"/><circle cx="604.8" cy="288.5" r="5.75" fill="#74da8b" stroke="#52b068" stroke-width="0.7"/><circle cx="606.5" cy="285.0" r="5.75" fill="#74da8b" stroke="#52b068" stroke-width="0.7"/><circle cx="662.4" cy="265.1" r="5.75" fill="#74da8b" stroke="#52b068" stroke-width="0.7"/><circle cx="648.4" cy="279.1" r="5.75" fill="#74da8b" stroke="#52b068" stroke-width="0.7"/><circle cx="667.2" cy="280.8" r="5.75" fill="#74da8b" stroke="#52b068" stroke-width="0.7"/><circle cx="695.4" cy="282.5" r="5.75" fill="#74da8b" stroke="#52b068" stroke-width="0.7"/><circle cx="691.1" cy="299.6" r="5.75" fill="#74da8b" stroke="#52b068" stroke-width="0.7"/><circle cx="659.5" cy="303.8" r="5.75" fill="#74da8b" stroke="#52b068" stroke-width="0.7"/><circle cx="714.1" cy="298.7" r="5.75" fill="#74da8b" stroke="#52b068" stroke-width="0.7"/><circle cx="701.3" cy="312.4" r="5.75" fill="#74da8b" stroke="#52b068" stroke-width="0.7"/><circle cx="704.8" cy="309.8" r="5.75" fill="#74da8b" stroke="#52b068" stroke-width="0.7"/><circle cx="675.4" cy="341.4" r="5.75" fill="#74da8b" stroke="#52b068" stroke-width="0.7"/><circle cx="750.9" cy="268.0" r="5.75" fill="#74da8b" stroke="#52b068" stroke-width="0.7"/><circle cx="750.9" cy="279.9" r="5.75" fill="#74da8b" stroke="#52b068" stroke-width="0.7"/><circle cx="750.9" cy="282.5" r="5.75" fill="#74da8b" stroke="#52b068" stroke-width="0.7"/><circle cx="784.2" cy="297.5" r="5.75" fill="#74da8b" stroke="#52b068" stroke-width="0.7"/><circle cx="803.8" cy="273.9" r="5.75" fill="#74da8b" stroke="#52b068" stroke-width="0.7"/><circle cx="803.8" cy="280.8" r="5.75" fill="#74da8b" stroke="#52b068" stroke-width="0.7"/><circle cx="865.4" cy="262.0" r="5.75" fill="#74da8b" stroke="#52b068" stroke-width="0.7"/><circle cx="865.4" cy="267.1" r="5.75" fill="#74da8b" stroke="#52b068" stroke-width="0.7"/><circle cx="865.4" cy="280.8" r="5.75" fill="#74da8b" stroke="#52b068" stroke-width="0.7"/><circle cx="865.4" cy="285.9" r="5.75" fill="#74da8b" stroke="#52b068" stroke-width="0.7"/><circle cx="874.3" cy="278.2" r="5.75" fill="#74da8b" stroke="#52b068" stroke-width="0.7"/><circle cx="921.3" cy="281.6" r="5.75" fill="#74da8b" stroke="#52b068" stroke-width="0.7"/><circle cx="919.6" cy="294.4" r="5.75" fill="#74da8b" stroke="#52b068" stroke-width="0.7"/><circle cx="897.0" cy="307.8" r="5.75" fill="#74da8b" stroke="#52b068" stroke-width="0.7"/><circle cx="929.0" cy="306.0" r="5.75" fill="#74da8b" stroke="#52b068" stroke-width="0.7"/><circle cx="980.2" cy="282.5" r="5.75" fill="#74da8b" stroke="#52b068" stroke-width="0.7"/><circle cx="993.9" cy="293.6" r="5.75" fill="#74da8b" stroke="#52b068" stroke-width="0.7"/><circle cx="1005.0" cy="277.7" r="5.75" fill="#74da8b" stroke="#52b068" stroke-width="0.7"/><circle cx="1020.0" cy="285.0" r="5.75" fill="#74da8b" stroke="#52b068" stroke-width="0.7"/><circle cx="1020.0" cy="287.6" r="5.75" fill="#74da8b" stroke="#52b068" stroke-width="0.7"/><circle cx="1068.5" cy="289.6" r="5.75" fill="#74da8b" stroke="#52b068" stroke-width="0.7"/><circle cx="1104.0" cy="297.5" r="5.75" fill="#74da8b" stroke="#52b068" stroke-width="0.7"/><circle cx="1109.1" cy="296.1" r="5.75" fill="#74da8b" stroke="#52b068" stroke-width="0.7"/><circle cx="1109.5" cy="307.2" r="5.75" fill="#74da8b" stroke="#52b068" stroke-width="0.7"/><circle cx="1139.0" cy="285.0" r="5.75" fill="#74da8b" stroke="#52b068" stroke-width="0.7"/><circle cx="1135.8" cy="307.2" r="5.75" fill="#74da8b" stroke="#52b068" stroke-width="0.7"/><circle cx="1159.5" cy="277.4" r="5.75" fill="#74da8b" stroke="#52b068" stroke-width="0.7"/><circle cx="1183.4" cy="273.1" r="5.75" fill="#74da8b" stroke="#52b068" stroke-width="0.7"/><circle cx="1177.5" cy="278.2" r="5.75" fill="#74da8b" stroke="#52b068" stroke-width="0.7"/><circle cx="1172.8" cy="338.0" r="5.75" fill="#74da8b" stroke="#52b068" stroke-width="0.7"/><circle cx="1224.4" cy="299.6" r="5.75" fill="#74da8b" stroke="#52b068" stroke-width="0.7"/><circle cx="1224.4" cy="304.7" r="5.75" fill="#74da8b" stroke="#52b068" stroke-width="0.7"/><circle cx="1224.4" cy="309.8" r="5.75" fill="#74da8b" stroke="#52b068" stroke-width="0.7"/><circle cx="1259.0" cy="274.8" r="5.75" fill="#74da8b" stroke="#52b068" stroke-width="0.7"/><circle cx="1259.0" cy="280.8" r="5.75" fill="#74da8b" stroke="#52b068" stroke-width="0.7"/><circle cx="1344.8" cy="284.2" r="5.75" fill="#74da8b" stroke="#52b068" stroke-width="0.7"/><circle cx="1344.8" cy="287.6" r="5.75" fill="#74da8b" stroke="#52b068" stroke-width="0.7"/><circle cx="1340.2" cy="307.8" r="5.75" fill="#74da8b" stroke="#52b068" stroke-width="0.7"/><circle cx="1341.9" cy="309.0" r="5.75" fill="#74da8b" stroke="#52b068" stroke-width="0.7"/><circle cx="1367.5" cy="312.9" r="5.75" fill="#74da8b" stroke="#52b068" stroke-width="0.7"/><circle cx="1375.2" cy="309.0" r="5.75" fill="#74da8b" stroke="#52b068" stroke-width="0.7"/><circle cx="1378.6" cy="303.0" r="5.75" fill="#74da8b" stroke="#52b068" stroke-width="0.7"/><circle cx="1383.7" cy="304.7" r="5.75" fill="#74da8b" stroke="#52b068" stroke-width="0.7"/><circle cx="1384.6" cy="310.7" r="5.75" fill="#74da8b" stroke="#52b068" stroke-width="0.7"/><circle cx="1390.5" cy="283.3" r="5.75" fill="#74da8b" stroke="#52b068" stroke-width="0.7"/><circle cx="1402.2" cy="274.8" r="5.75" fill="#74da8b" stroke="#52b068" stroke-width="0.7"/><circle cx="1402.5" cy="279.1" r="5.75" fill="#74da8b" stroke="#52b068" stroke-width="0.7"/><circle cx="1406.8" cy="282.5" r="5.75" fill="#74da8b" stroke="#52b068" stroke-width="0.7"/><circle cx="1405.9" cy="309.8" r="5.75" fill="#74da8b" stroke="#52b068" stroke-width="0.7"/><circle cx="1405.9" cy="313.2" r="5.75" fill="#74da8b" stroke="#52b068" stroke-width="0.7"/><circle cx="1417.4" cy="313.6" r="5.75" fill="#74da8b" stroke="#52b068" stroke-width="0.7"/><circle cx="1430.9" cy="312.9" r="5.75" fill="#74da8b" stroke="#52b068" stroke-width="0.7"/><circle cx="1440.0" cy="284.2" r="5.75" fill="#74da8b" stroke="#52b068" stroke-width="0.7"/><circle cx="1472.0" cy="289.3" r="5.75" fill="#74da8b" stroke="#52b068" stroke-width="0.7"/><circle cx="1485.7" cy="289.3" r="5.75" fill="#74da8b" stroke="#52b068" stroke-width="0.7"/><circle cx="1497.6" cy="284.2" r="5.75" fill="#74da8b" stroke="#52b068" stroke-width="0.7"/><circle cx="1573.3" cy="285.9" r="5.75" fill="#74da8b" stroke="#52b068" stroke-width="0.7"/><circle cx="1581.0" cy="283.3" r="5.75" fill="#74da8b" stroke="#52b068" stroke-width="0.7"/><circle cx="1581.8" cy="289.3" r="5.75" fill="#74da8b" stroke="#52b068" stroke-width="0.7"/><circle cx="1581.0" cy="307.2" r="5.75" fill="#74da8b" stroke="#52b068" stroke-width="0.7"/><circle cx="1581.0" cy="311.5" r="5.75" fill="#74da8b" stroke="#52b068" stroke-width="0.7"/><circle cx="1598.0" cy="304.7" r="5.75" fill="#74da8b" stroke="#52b068" stroke-width="0.7"/><circle cx="1598.9" cy="312.4" r="5.75" fill="#74da8b" stroke="#52b068" stroke-width="0.7"/><circle cx="1598.9" cy="319.2" r="5.75" fill="#74da8b" stroke="#52b068" stroke-width="0.7"/><circle cx="1619.4" cy="272.2" r="5.75" fill="#74da8b" stroke="#52b068" stroke-width="0.7"/><circle cx="1625.4" cy="268.0" r="5.75" fill="#74da8b" stroke="#52b068" stroke-width="0.7"/><circle cx="1617.7" cy="282.5" r="5.75" fill="#74da8b" stroke="#52b068" stroke-width="0.7"/><circle cx="1614.0" cy="307.2" r="5.75" fill="#74da8b" stroke="#52b068" stroke-width="0.7"/><circle cx="1625.9" cy="344.3" r="5.75" fill="#74da8b" stroke="#52b068" stroke-width="0.7"/><circle cx="1639.9" cy="281.6" r="5.75" fill="#74da8b" stroke="#52b068" stroke-width="0.7"/><circle cx="1650.5" cy="309.8" r="5.75" fill="#74da8b" stroke="#52b068" stroke-width="0.7"/><circle cx="1650.5" cy="312.4" r="5.75" fill="#74da8b" stroke="#52b068" stroke-width="0.7"/><circle cx="1686.5" cy="284.2" r="5.75" fill="#74da8b" stroke="#52b068" stroke-width="0.7"/><circle cx="1687.3" cy="287.6" r="5.75" fill="#74da8b" stroke="#52b068" stroke-width="0.7"/><circle cx="1685.3" cy="309.0" r="5.75" fill="#74da8b" stroke="#52b068" stroke-width="0.7"/><circle cx="1685.6" cy="315.8" r="5.75" fill="#74da8b" stroke="#52b068" stroke-width="0.7"/><circle cx="1695.4" cy="315.8" r="5.75" fill="#74da8b" stroke="#52b068" stroke-width="0.7"/><circle cx="1716.4" cy="283.3" r="5.75" fill="#74da8b" stroke="#52b068" stroke-width="0.7"/><circle cx="1721.5" cy="283.3" r="5.75" fill="#74da8b" stroke="#52b068" stroke-width="0.7"/><circle cx="1735.1" cy="284.2" r="5.75" fill="#74da8b" stroke="#52b068" stroke-width="0.7"/><circle cx="1734.6" cy="305.0" r="5.75" fill="#74da8b" stroke="#52b068" stroke-width="0.7"/><circle cx="1733.8" cy="200.2" r="5.75" fill="#74da8b" stroke="#52b068" stroke-width="0.7"/><circle cx="1816.3" cy="268.5" r="5.75" fill="#74da8b" stroke="#52b068" stroke-width="0.7"/><circle cx="1821.4" cy="268.5" r="5.75" fill="#74da8b" stroke="#52b068" stroke-width="0.7"/><circle cx="1846.2" cy="271.4" r="5.75" fill="#74da8b" stroke="#52b068" stroke-width="0.7"/><circle cx="1852.1" cy="272.2" r="5.75" fill="#74da8b" stroke="#52b068" stroke-width="0.7"/><circle cx="1813.7" cy="284.2" r="5.75" fill="#74da8b" stroke="#52b068" stroke-width="0.7"/><circle cx="1845.3" cy="284.2" r="5.75" fill="#74da8b" stroke="#52b068" stroke-width="0.7"/><circle cx="1856.4" cy="283.3" r="5.75" fill="#74da8b" stroke="#52b068" stroke-width="0.7"/><circle cx="1837.6" cy="299.6" r="5.75" fill="#74da8b" stroke="#52b068" stroke-width="0.7"/><circle cx="1888.9" cy="278.7" r="5.75" fill="#74da8b" stroke="#52b068" stroke-width="0.7"/><circle cx="1899.1" cy="305.5" r="5.75" fill="#74da8b" stroke="#52b068" stroke-width="0.7"/><circle cx="1899.1" cy="309.8" r="5.75" fill="#74da8b" stroke="#52b068" stroke-width="0.7"/><circle cx="1899.1" cy="314.9" r="5.75" fill="#74da8b" stroke="#52b068" stroke-width="0.7"/><circle cx="1821.1" cy="314.6" r="5.75" fill="#74da8b" stroke="#52b068" stroke-width="0.7"/><circle cx="1853.0" cy="313.2" r="5.75" fill="#74da8b" stroke="#52b068" stroke-width="0.7"/><circle cx="1916.2" cy="283.3" r="5.75" fill="#74da8b" stroke="#52b068" stroke-width="0.7"/><circle cx="1954.6" cy="283.3" r="5.75" fill="#74da8b" stroke="#52b068" stroke-width="0.7"/><circle cx="1957.5" cy="312.4" r="5.75" fill="#74da8b" stroke="#52b068" stroke-width="0.7"/><circle cx="1957.5" cy="314.9" r="5.75" fill="#74da8b" stroke="#52b068" stroke-width="0.7"/><circle cx="2092.1" cy="309.5" r="5.75" fill="#74da8b" stroke="#52b068" stroke-width="0.7"/><circle cx="2102.8" cy="288.8" r="5.75" fill="#74da8b" stroke="#52b068" stroke-width="0.7"/><circle cx="2147.6" cy="283.3" r="5.75" fill="#74da8b" stroke="#52b068" stroke-width="0.7"/><circle cx="2148.1" cy="312.4" r="5.75" fill="#74da8b" stroke="#52b068" stroke-width="0.7"/><circle cx="2159.2" cy="311.2" r="5.75" fill="#74da8b" stroke="#52b068" stroke-width="0.7"/><circle cx="2183.1" cy="312.9" r="5.75" fill="#74da8b" stroke="#52b068" stroke-width="0.7"/><circle cx="2193.8" cy="307.8" r="5.75" fill="#74da8b" stroke="#52b068" stroke-width="0.7"/><circle cx="2224.9" cy="286.7" r="5.75" fill="#74da8b" stroke="#52b068" stroke-width="0.7"/><circle cx="2308.6" cy="284.2" r="5.75" fill="#74da8b" stroke="#52b068" stroke-width="0.7"/><circle cx="2321.4" cy="283.3" r="5.75" fill="#74da8b" stroke="#52b068" stroke-width="0.7"/><circle cx="2331.2" cy="311.2" r="5.75" fill="#74da8b" stroke="#52b068" stroke-width="0.7"/><circle cx="2285.6" cy="336.3" r="5.75" fill="#74da8b" stroke="#52b068" stroke-width="0.7"/><circle cx="2286.1" cy="344.8" r="5.75" fill="#74da8b" stroke="#52b068" stroke-width="0.7"/><circle cx="2351.8" cy="273.1" r="5.75" fill="#74da8b" stroke="#52b068" stroke-width="0.7"/><circle cx="2394.4" cy="282.1" r="5.75" fill="#74da8b" stroke="#52b068" stroke-width="0.7"/><circle cx="2454.1" cy="284.2" r="5.75" fill="#74da8b" stroke="#52b068" stroke-width="0.7"/><circle cx="2469.2" cy="284.2" r="5.75" fill="#74da8b" stroke="#52b068" stroke-width="0.7"/><circle cx="2476.0" cy="283.3" r="5.75" fill="#74da8b" stroke="#52b068" stroke-width="0.7"/><circle cx="2481.1" cy="285.0" r="5.75" fill="#74da8b" stroke="#52b068" stroke-width="0.7"/><circle cx="2500.8" cy="287.3" r="5.75" fill="#74da8b" stroke="#52b068" stroke-width="0.7"/><circle cx="2473.4" cy="337.1" r="5.75" fill="#74da8b" stroke="#52b068" stroke-width="0.7"/><circle cx="2563.0" cy="279.9" r="5.75" fill="#74da8b" stroke="#52b068" stroke-width="0.7"/><circle cx="2570.3" cy="311.9" r="5.75" fill="#74da8b" stroke="#52b068" stroke-width="0.7"/><circle cx="2617.6" cy="284.5" r="5.75" fill="#74da8b" stroke="#52b068" stroke-width="0.7"/><circle cx="2656.0" cy="284.2" r="5.75" fill="#74da8b" stroke="#52b068" stroke-width="0.7"/><circle cx="2648.0" cy="316.6" r="5.75" fill="#74da8b" stroke="#52b068" stroke-width="0.7"/><circle cx="2648.0" cy="326.0" r="5.75" fill="#74da8b" stroke="#52b068" stroke-width="0.7"/><circle cx="2694.0" cy="274.8" r="5.75" fill="#74da8b" stroke="#52b068" stroke-width="0.7"/><circle cx="2694.0" cy="284.2" r="5.75" fill="#74da8b" stroke="#52b068" stroke-width="0.7"/><circle cx="2701.3" cy="297.0" r="5.75" fill="#74da8b" stroke="#52b068" stroke-width="0.7"/><circle cx="2682.5" cy="306.4" r="5.75" fill="#74da8b" stroke="#52b068" stroke-width="0.7"/><circle cx="2682.5" cy="310.7" r="5.75" fill="#74da8b" stroke="#52b068" stroke-width="0.7"/><circle cx="2701.3" cy="312.4" r="5.75" fill="#74da8b" stroke="#52b068" stroke-width="0.7"/><circle cx="2701.3" cy="315.8" r="5.75" fill="#74da8b" stroke="#52b068" stroke-width="0.7"/><circle cx="2779.9" cy="284.2" r="5.75" fill="#74da8b" stroke="#52b068" stroke-width="0.7"/><circle cx="2790.1" cy="284.2" r="5.75" fill="#74da8b" stroke="#52b068" stroke-width="0.7"/><circle cx="2809.4" cy="307.2" r="5.75" fill="#74da8b" stroke="#52b068" stroke-width="0.7"/><circle cx="2821.7" cy="308.9" r="5.75" fill="#74da8b" stroke="#52b068" stroke-width="0.7"/><circle cx="2832.0" cy="243.5" r="5.75" fill="#74da8b" stroke="#52b068" stroke-width="0.7"/><circle cx="2833.2" cy="257.7" r="5.75" fill="#74da8b" stroke="#52b068" stroke-width="0.7"/><circle cx="2828.2" cy="268.5" r="5.75" fill="#74da8b" stroke="#52b068" stroke-width="0.7"/><circle cx="2832.8" cy="312.4" r="5.75" fill="#74da8b" stroke="#52b068" stroke-width="0.7"/><circle cx="2849.9" cy="282.5" r="5.75" fill="#74da8b" stroke="#52b068" stroke-width="0.7"/><circle cx="2848.2" cy="303.8" r="5.75" fill="#74da8b" stroke="#52b068" stroke-width="0.7"/><circle cx="2849.9" cy="310.7" r="5.75" fill="#74da8b" stroke="#52b068" stroke-width="0.7"/><circle cx="2832.0" cy="343.1" r="5.75" fill="#74da8b" stroke="#52b068" stroke-width="0.7"/><circle cx="2828.6" cy="350.8" r="5.75" fill="#74da8b" stroke="#52b068" stroke-width="0.7"/><circle cx="2828.6" cy="359.3" r="5.75" fill="#74da8b" stroke="#52b068" stroke-width="0.7"/><circle cx="2833.7" cy="358.5" r="5.75" fill="#74da8b" stroke="#52b068" stroke-width="0.7"/><circle cx="656.9" cy="282.3" r="5.75" fill="#74da8b" stroke="#52b068" stroke-width="0.7"/><circle cx="666.6" cy="283.5" r="5.75" fill="#74da8b" stroke="#52b068" stroke-width="0.7"/><circle cx="670.0" cy="279.5" r="5.75" fill="#74da8b" stroke="#52b068" stroke-width="0.7"/><circle cx="696.3" cy="280.0" r="5.75" fill="#74da8b" stroke="#52b068" stroke-width="0.7"/><circle cx="690.6" cy="301.7" r="5.75" fill="#74da8b" stroke="#52b068" stroke-width="0.7"/><circle cx="391.3" cy="291.9" r="5.75" fill="#e67670" stroke="#bf5752" stroke-width="0.7"/><circle cx="398.2" cy="296.1" r="5.75" fill="#e67670" stroke="#bf5752" stroke-width="0.7"/><circle cx="398.2" cy="291.0" r="5.75" fill="#e67670" stroke="#bf5752" stroke-width="0.7"/><circle cx="411.0" cy="291.0" r="5.75" fill="#e67670" stroke="#bf5752" stroke-width="0.7"/><circle cx="411.8" cy="296.1" r="5.75" fill="#e67670" stroke="#bf5752" stroke-width="0.7"/><circle cx="416.0" cy="291.0" r="5.75" fill="#e67670" stroke="#bf5752" stroke-width="0.7"/><circle cx="419.5" cy="291.0" r="5.75" fill="#e67670" stroke="#bf5752" stroke-width="0.7"/><circle cx="421.2" cy="289.3" r="5.75" fill="#e67670" stroke="#bf5752" stroke-width="0.7"/><circle cx="421.2" cy="278.7" r="5.75" fill="#e67670" stroke="#bf5752" stroke-width="0.7"/><circle cx="421.2" cy="260.3" r="5.75" fill="#e67670" stroke="#bf5752" stroke-width="0.7"/><circle cx="421.2" cy="296.1" r="5.75" fill="#e67670" stroke="#bf5752" stroke-width="0.7"/><circle cx="452.8" cy="294.4" r="5.75" fill="#e67670" stroke="#bf5752" stroke-width="0.7"/><circle cx="662.4" cy="275.6" r="5.75" fill="#e67670" stroke="#bf5752" stroke-width="0.7"/><circle cx="648.4" cy="291.0" r="5.75" fill="#e67670" stroke="#bf5752" stroke-width="0.7"/><circle cx="650.1" cy="296.1" r="5.75" fill="#e67670" stroke="#bf5752" stroke-width="0.7"/><circle cx="660.3" cy="292.7" r="5.75" fill="#e67670" stroke="#bf5752" stroke-width="0.7"/><circle cx="668.9" cy="296.1" r="5.75" fill="#e67670" stroke="#bf5752" stroke-width="0.7"/><circle cx="674.9" cy="285.9" r="5.75" fill="#e67670" stroke="#bf5752" stroke-width="0.7"/><circle cx="674.0" cy="296.1" r="5.75" fill="#e67670" stroke="#bf5752" stroke-width="0.7"/><circle cx="684.3" cy="291.0" r="5.75" fill="#e67670" stroke="#bf5752" stroke-width="0.7"/><circle cx="684.3" cy="296.1" r="5.75" fill="#e67670" stroke="#bf5752" stroke-width="0.7"/><circle cx="694.5" cy="289.3" r="5.75" fill="#e67670" stroke="#bf5752" stroke-width="0.7"/><circle cx="696.2" cy="296.1" r="5.75" fill="#e67670" stroke="#bf5752" stroke-width="0.7"/><circle cx="675.4" cy="337.1" r="5.75" fill="#e67670" stroke="#bf5752" stroke-width="0.7"/><circle cx="659.1" cy="356.8" r="5.75" fill="#e67670" stroke="#bf5752" stroke-width="0.7"/><circle cx="659.5" cy="368.7" r="5.75" fill="#e67670" stroke="#bf5752" stroke-width="0.7"/><circle cx="769.7" cy="275.6" r="5.75" fill="#e67670" stroke="#bf5752" stroke-width="0.7"/><circle cx="768.8" cy="282.5" r="5.75" fill="#e67670" stroke="#bf5752" stroke-width="0.7"/><circle cx="762.8" cy="292.7" r="5.75" fill="#e67670" stroke="#bf5752" stroke-width="0.7"/><circle cx="769.7" cy="291.0" r="5.75" fill="#e67670" stroke="#bf5752" stroke-width="0.7"/><circle cx="769.7" cy="297.8" r="5.75" fill="#e67670" stroke="#bf5752" stroke-width="0.7"/><circle cx="801.3" cy="289.3" r="5.75" fill="#e67670" stroke="#bf5752" stroke-width="0.7"/><circle cx="803.8" cy="294.4" r="5.75" fill="#e67670" stroke="#bf5752" stroke-width="0.7"/><circle cx="865.4" cy="254.3" r="5.75" fill="#e67670" stroke="#bf5752" stroke-width="0.7"/><circle cx="866.6" cy="287.6" r="5.75" fill="#e67670" stroke="#bf5752" stroke-width="0.7"/><circle cx="866.6" cy="293.6" r="5.75" fill="#e67670" stroke="#bf5752" stroke-width="0.7"/><circle cx="875.1" cy="289.3" r="5.75" fill="#e67670" stroke="#bf5752" stroke-width="0.7"/><circle cx="875.1" cy="295.3" r="5.75" fill="#e67670" stroke="#bf5752" stroke-width="0.7"/><circle cx="883.7" cy="287.6" r="5.75" fill="#e67670" stroke="#bf5752" stroke-width="0.7"/><circle cx="883.7" cy="294.4" r="5.75" fill="#e67670" stroke="#bf5752" stroke-width="0.7"/><circle cx="902.8" cy="279.9" r="5.75" fill="#e67670" stroke="#bf5752" stroke-width="0.7"/><circle cx="902.8" cy="289.3" r="5.75" fill="#e67670" stroke="#bf5752" stroke-width="0.7"/><circle cx="911.9" cy="289.3" r="5.75" fill="#e67670" stroke="#bf5752" stroke-width="0.7"/><circle cx="921.3" cy="291.0" r="5.75" fill="#e67670" stroke="#bf5752" stroke-width="0.7"/><circle cx="937.5" cy="276.0" r="5.75" fill="#e67670" stroke="#bf5752" stroke-width="0.7"/><circle cx="937.5" cy="291.4" r="5.75" fill="#e67670" stroke="#bf5752" stroke-width="0.7"/><circle cx="954.2" cy="287.6" r="5.75" fill="#e67670" stroke="#bf5752" stroke-width="0.7"/><circle cx="954.2" cy="296.1" r="5.75" fill="#e67670" stroke="#bf5752" stroke-width="0.7"/><circle cx="958.8" cy="293.6" r="5.75" fill="#e67670" stroke="#bf5752" stroke-width="0.7"/><circle cx="979.3" cy="290.2" r="5.75" fill="#e67670" stroke="#bf5752" stroke-width="0.7"/><circle cx="979.3" cy="297.0" r="5.75" fill="#e67670" stroke="#bf5752" stroke-width="0.7"/><circle cx="984.5" cy="289.3" r="5.75" fill="#e67670" stroke="#bf5752" stroke-width="0.7"/><circle cx="935.8" cy="351.6" r="5.75" fill="#e67670" stroke="#bf5752" stroke-width="0.7"/><circle cx="972.8" cy="346.0" r="5.75" fill="#e67670" stroke="#bf5752" stroke-width="0.7"/><circle cx="1123.7" cy="291.9" r="5.75" fill="#e67670" stroke="#bf5752" stroke-width="0.7"/><circle cx="1128.0" cy="289.3" r="5.75" fill="#e67670" stroke="#bf5752" stroke-width="0.7"/><circle cx="1145.9" cy="281.6" r="5.75" fill="#e67670" stroke="#bf5752" stroke-width="0.7"/><circle cx="1145.9" cy="289.3" r="5.75" fill="#e67670" stroke="#bf5752" stroke-width="0.7"/><circle cx="1145.9" cy="295.3" r="5.75" fill="#e67670" stroke="#bf5752" stroke-width="0.7"/><circle cx="1167.2" cy="276.5" r="5.75" fill="#e67670" stroke="#bf5752" stroke-width="0.7"/><circle cx="1162.0" cy="292.7" r="5.75" fill="#e67670" stroke="#bf5752" stroke-width="0.7"/><circle cx="1169.0" cy="289.3" r="5.75" fill="#e67670" stroke="#bf5752" stroke-width="0.7"/><circle cx="1175.7" cy="292.7" r="5.75" fill="#e67670" stroke="#bf5752" stroke-width="0.7"/><circle cx="1183.4" cy="289.3" r="5.75" fill="#e67670" stroke="#bf5752" stroke-width="0.7"/><circle cx="1183.4" cy="296.1" r="5.75" fill="#e67670" stroke="#bf5752" stroke-width="0.7"/><circle cx="1167.2" cy="296.1" r="5.75" fill="#e67670" stroke="#bf5752" stroke-width="0.7"/><circle cx="1183.4" cy="283.3" r="5.75" fill="#e67670" stroke="#bf5752" stroke-width="0.7"/><circle cx="1230.4" cy="290.2" r="5.75" fill="#e67670" stroke="#bf5752" stroke-width="0.7"/><circle cx="1212.1" cy="365.0" r="5.75" fill="#e67670" stroke="#bf5752" stroke-width="0.7"/><circle cx="1235.5" cy="356.0" r="5.75" fill="#e67670" stroke="#bf5752" stroke-width="0.7"/><circle cx="1351.3" cy="290.7" r="5.75" fill="#e67670" stroke="#bf5752" stroke-width="0.7"/><circle cx="1356.4" cy="289.3" r="5.75" fill="#e67670" stroke="#bf5752" stroke-width="0.7"/><circle cx="1390.9" cy="294.1" r="5.75" fill="#e67670" stroke="#bf5752" stroke-width="0.7"/><circle cx="1396.5" cy="291.0" r="5.75" fill="#e67670" stroke="#bf5752" stroke-width="0.7"/><circle cx="1402.5" cy="284.2" r="5.75" fill="#e67670" stroke="#bf5752" stroke-width="0.7"/><circle cx="1404.2" cy="289.3" r="5.75" fill="#e67670" stroke="#bf5752" stroke-width="0.7"/><circle cx="1424.7" cy="291.9" r="5.75" fill="#e67670" stroke="#bf5752" stroke-width="0.7"/><circle cx="1429.8" cy="291.0" r="5.75" fill="#e67670" stroke="#bf5752" stroke-width="0.7"/><circle cx="1440.0" cy="289.3" r="5.75" fill="#e67670" stroke="#bf5752" stroke-width="0.7"/><circle cx="1440.9" cy="296.1" r="5.75" fill="#e67670" stroke="#bf5752" stroke-width="0.7"/><circle cx="1452.0" cy="296.1" r="5.75" fill="#e67670" stroke="#bf5752" stroke-width="0.7"/><circle cx="1455.4" cy="290.2" r="5.75" fill="#e67670" stroke="#bf5752" stroke-width="0.7"/><circle cx="1459.7" cy="289.3" r="5.75" fill="#e67670" stroke="#bf5752" stroke-width="0.7"/><circle cx="1497.6" cy="291.0" r="5.75" fill="#e67670" stroke="#bf5752" stroke-width="0.7"/><circle cx="1497.6" cy="296.1" r="5.75" fill="#e67670" stroke="#bf5752" stroke-width="0.7"/><circle cx="1506.7" cy="289.3" r="5.75" fill="#e67670" stroke="#bf5752" stroke-width="0.7"/><circle cx="1507.5" cy="296.1" r="5.75" fill="#e67670" stroke="#bf5752" stroke-width="0.7"/><circle cx="1577.6" cy="289.3" r="5.75" fill="#e67670" stroke="#bf5752" stroke-width="0.7"/><circle cx="1583.5" cy="292.7" r="5.75" fill="#e67670" stroke="#bf5752" stroke-width="0.7"/><circle cx="1592.1" cy="290.2" r="5.75" fill="#e67670" stroke="#bf5752" stroke-width="0.7"/><circle cx="1597.2" cy="293.6" r="5.75" fill="#e67670" stroke="#bf5752" stroke-width="0.7"/><circle cx="1604.0" cy="287.6" r="5.75" fill="#e67670" stroke="#bf5752" stroke-width="0.7"/><circle cx="1604.0" cy="292.7" r="5.75" fill="#e67670" stroke="#bf5752" stroke-width="0.7"/><circle cx="1625.0" cy="276.5" r="5.75" fill="#e67670" stroke="#bf5752" stroke-width="0.7"/><circle cx="1619.4" cy="289.3" r="5.75" fill="#e67670" stroke="#bf5752" stroke-width="0.7"/><circle cx="1619.4" cy="294.4" r="5.75" fill="#e67670" stroke="#bf5752" stroke-width="0.7"/><circle cx="1624.5" cy="292.7" r="5.75" fill="#e67670" stroke="#bf5752" stroke-width="0.7"/><circle cx="1646.7" cy="291.9" r="5.75" fill="#e67670" stroke="#bf5752" stroke-width="0.7"/><circle cx="1653.6" cy="289.3" r="5.75" fill="#e67670" stroke="#bf5752" stroke-width="0.7"/><circle cx="1664.7" cy="291.0" r="5.75" fill="#e67670" stroke="#bf5752" stroke-width="0.7"/><circle cx="1669.4" cy="290.2" r="5.75" fill="#e67670" stroke="#bf5752" stroke-width="0.7"/><circle cx="1681.9" cy="287.6" r="5.75" fill="#e67670" stroke="#bf5752" stroke-width="0.7"/><circle cx="1683.9" cy="294.4" r="5.75" fill="#e67670" stroke="#bf5752" stroke-width="0.7"/><circle cx="1708.7" cy="289.3" r="5.75" fill="#e67670" stroke="#bf5752" stroke-width="0.7"/><circle cx="1716.4" cy="289.3" r="5.75" fill="#e67670" stroke="#bf5752" stroke-width="0.7"/><circle cx="1716.4" cy="294.4" r="5.75" fill="#e67670" stroke="#bf5752" stroke-width="0.7"/><circle cx="1730.0" cy="289.3" r="5.75" fill="#e67670" stroke="#bf5752" stroke-width="0.7"/><circle cx="1735.1" cy="291.0" r="5.75" fill="#e67670" stroke="#bf5752" stroke-width="0.7"/><circle cx="1735.1" cy="296.1" r="5.75" fill="#e67670" stroke="#bf5752" stroke-width="0.7"/><circle cx="1828.7" cy="279.9" r="5.75" fill="#e67670" stroke="#bf5752" stroke-width="0.7"/><circle cx="1812.9" cy="287.6" r="5.75" fill="#e67670" stroke="#bf5752" stroke-width="0.7"/><circle cx="1812.9" cy="295.3" r="5.75" fill="#e67670" stroke="#bf5752" stroke-width="0.7"/><circle cx="1820.5" cy="289.3" r="5.75" fill="#e67670" stroke="#bf5752" stroke-width="0.7"/><circle cx="1828.2" cy="292.7" r="5.75" fill="#e67670" stroke="#bf5752" stroke-width="0.7"/><circle cx="1835.9" cy="285.9" r="5.75" fill="#e67670" stroke="#bf5752" stroke-width="0.7"/><circle cx="1840.2" cy="292.7" r="5.75" fill="#e67670" stroke="#bf5752" stroke-width="0.7"/><circle cx="1847.0" cy="292.7" r="5.75" fill="#e67670" stroke="#bf5752" stroke-width="0.7"/><circle cx="1852.1" cy="293.6" r="5.75" fill="#e67670" stroke="#bf5752" stroke-width="0.7"/><circle cx="1862.4" cy="291.9" r="5.75" fill="#e67670" stroke="#bf5752" stroke-width="0.7"/><circle cx="1871.8" cy="289.0" r="5.75" fill="#e67670" stroke="#bf5752" stroke-width="0.7"/><circle cx="1878.6" cy="290.2" r="5.75" fill="#e67670" stroke="#bf5752" stroke-width="0.7"/><circle cx="1882.9" cy="289.3" r="5.75" fill="#e67670" stroke="#bf5752" stroke-width="0.7"/><circle cx="1888.0" cy="290.2" r="5.75" fill="#e67670" stroke="#bf5752" stroke-width="0.7"/><circle cx="1899.1" cy="294.4" r="5.75" fill="#e67670" stroke="#bf5752" stroke-width="0.7"/><circle cx="1911.1" cy="282.5" r="5.75" fill="#e67670" stroke="#bf5752" stroke-width="0.7"/><circle cx="1914.5" cy="291.9" r="5.75" fill="#e67670" stroke="#bf5752" stroke-width="0.7"/><circle cx="1954.6" cy="293.6" r="5.75" fill="#e67670" stroke="#bf5752" stroke-width="0.7"/><circle cx="2147.6" cy="289.3" r="5.75" fill="#e67670" stroke="#bf5752" stroke-width="0.7"/><circle cx="2224.9" cy="281.6" r="5.75" fill="#e67670" stroke="#bf5752" stroke-width="0.7"/><circle cx="2224.9" cy="291.9" r="5.75" fill="#e67670" stroke="#bf5752" stroke-width="0.7"/><circle cx="2293.2" cy="287.9" r="5.75" fill="#e67670" stroke="#bf5752" stroke-width="0.7"/><circle cx="2301.8" cy="291.0" r="5.75" fill="#e67670" stroke="#bf5752" stroke-width="0.7"/><circle cx="2309.5" cy="292.7" r="5.75" fill="#e67670" stroke="#bf5752" stroke-width="0.7"/><circle cx="2309.5" cy="296.1" r="5.75" fill="#e67670" stroke="#bf5752" stroke-width="0.7"/><circle cx="2317.2" cy="291.0" r="5.75" fill="#e67670" stroke="#bf5752" stroke-width="0.7"/><circle cx="2318.0" cy="295.3" r="5.75" fill="#e67670" stroke="#bf5752" stroke-width="0.7"/><circle cx="2324.0" cy="289.3" r="5.75" fill="#e67670" stroke="#bf5752" stroke-width="0.7"/><circle cx="2325.7" cy="293.6" r="5.75" fill="#e67670" stroke="#bf5752" stroke-width="0.7"/><circle cx="2351.8" cy="279.9" r="5.75" fill="#e67670" stroke="#bf5752" stroke-width="0.7"/><circle cx="2351.8" cy="288.5" r="5.75" fill="#e67670" stroke="#bf5752" stroke-width="0.7"/><circle cx="2351.8" cy="294.4" r="5.75" fill="#e67670" stroke="#bf5752" stroke-width="0.7"/><circle cx="2359.9" cy="291.0" r="5.75" fill="#e67670" stroke="#bf5752" stroke-width="0.7"/><circle cx="2361.6" cy="295.3" r="5.75" fill="#e67670" stroke="#bf5752" stroke-width="0.7"/><circle cx="2374.4" cy="289.3" r="5.75" fill="#e67670" stroke="#bf5752" stroke-width="0.7"/><circle cx="2380.3" cy="291.9" r="5.75" fill="#e67670" stroke="#bf5752" stroke-width="0.7"/><circle cx="2394.4" cy="286.7" r="5.75" fill="#e67670" stroke="#bf5752" stroke-width="0.7"/><circle cx="2394.4" cy="292.7" r="5.75" fill="#e67670" stroke="#bf5752" stroke-width="0.7"/><circle cx="2393.2" cy="346.5" r="5.75" fill="#e67670" stroke="#bf5752" stroke-width="0.7"/><circle cx="2455.2" cy="291.0" r="5.75" fill="#e67670" stroke="#bf5752" stroke-width="0.7"/><circle cx="2468.3" cy="294.4" r="5.75" fill="#e67670" stroke="#bf5752" stroke-width="0.7"/><circle cx="2476.0" cy="291.0" r="5.75" fill="#e67670" stroke="#bf5752" stroke-width="0.7"/><circle cx="2479.4" cy="289.3" r="5.75" fill="#e67670" stroke="#bf5752" stroke-width="0.7"/><circle cx="2545.9" cy="290.7" r="5.75" fill="#e67670" stroke="#bf5752" stroke-width="0.7"/><circle cx="2559.6" cy="289.3" r="5.75" fill="#e67670" stroke="#bf5752" stroke-width="0.7"/><circle cx="2568.1" cy="288.5" r="5.75" fill="#e67670" stroke="#bf5752" stroke-width="0.7"/><circle cx="2575.8" cy="289.3" r="5.75" fill="#e67670" stroke="#bf5752" stroke-width="0.7"/><circle cx="2580.9" cy="288.5" r="5.75" fill="#e67670" stroke="#bf5752" stroke-width="0.7"/><circle cx="2601.4" cy="289.3" r="5.75" fill="#e67670" stroke="#bf5752" stroke-width="0.7"/><circle cx="2609.9" cy="292.7" r="5.75" fill="#e67670" stroke="#bf5752" stroke-width="0.7"/><circle cx="2618.5" cy="292.7" r="5.75" fill="#e67670" stroke="#bf5752" stroke-width="0.7"/><circle cx="2623.6" cy="289.3" r="5.75" fill="#e67670" stroke="#bf5752" stroke-width="0.7"/><circle cx="2645.8" cy="290.2" r="5.75" fill="#e67670" stroke="#bf5752" stroke-width="0.7"/><circle cx="2645.8" cy="295.3" r="5.75" fill="#e67670" stroke="#bf5752" stroke-width="0.7"/><circle cx="2655.2" cy="289.3" r="5.75" fill="#e67670" stroke="#bf5752" stroke-width="0.7"/><circle cx="2656.9" cy="294.4" r="5.75" fill="#e67670" stroke="#bf5752" stroke-width="0.7"/><circle cx="2683.4" cy="295.3" r="5.75" fill="#e67670" stroke="#bf5752" stroke-width="0.7"/><circle cx="2694.0" cy="289.3" r="5.75" fill="#e67670" stroke="#bf5752" stroke-width="0.7"/><circle cx="2694.0" cy="294.4" r="5.75" fill="#e67670" stroke="#bf5752" stroke-width="0.7"/><circle cx="2779.9" cy="289.3" r="5.75" fill="#e67670" stroke="#bf5752" stroke-width="0.7"/><circle cx="2781.6" cy="293.6" r="5.75" fill="#e67670" stroke="#bf5752" stroke-width="0.7"/><circle cx="2788.4" cy="289.3" r="5.75" fill="#e67670" stroke="#bf5752" stroke-width="0.7"/><circle cx="2791.8" cy="293.6" r="5.75" fill="#e67670" stroke="#bf5752" stroke-width="0.7"/><circle cx="2798.7" cy="289.3" r="5.75" fill="#e67670" stroke="#bf5752" stroke-width="0.7"/><circle cx="2821.7" cy="291.0" r="5.75" fill="#e67670" stroke="#bf5752" stroke-width="0.7"/><circle cx="2832.0" cy="279.9" r="5.75" fill="#e67670" stroke="#bf5752" stroke-width="0.7"/><circle cx="2832.8" cy="285.9" r="5.75" fill="#e67670" stroke="#bf5752" stroke-width="0.7"/><circle cx="2832.5" cy="298.7" r="5.75" fill="#e67670" stroke="#bf5752" stroke-width="0.7"/><circle cx="648.9" cy="296.0" r="5.75" fill="#e67670" stroke="#bf5752" stroke-width="0.7"/><circle cx="654.0" cy="291.5" r="5.75" fill="#e67670" stroke="#bf5752" stroke-width="0.7"/><circle cx="662.0" cy="296.6" r="5.75" fill="#e67670" stroke="#bf5752" stroke-width="0.7"/><circle cx="670.0" cy="294.9" r="5.75" fill="#e67670" stroke="#bf5752" stroke-width="0.7"/><circle cx="675.2" cy="296.0" r="5.75" fill="#e67670" stroke="#bf5752" stroke-width="0.7"/><circle cx="684.9" cy="296.6" r="5.75" fill="#e67670" stroke="#bf5752" stroke-width="0.7"/><circle cx="696.9" cy="297.7" r="5.75" fill="#e67670" stroke="#bf5752" stroke-width="0.7"/><circle cx="696.3" cy="287.5" r="5.75" fill="#e67670" stroke="#bf5752" stroke-width="0.7"/><circle cx="703.2" cy="291.5" r="5.75" fill="#e67670" stroke="#bf5752" stroke-width="0.7"/><circle cx="1425.1" cy="293.7" r="5.75" fill="#e67670" stroke="#bf5752" stroke-width="0.7"/><circle cx="1428.9" cy="294.8" r="5.75" fill="#e67670" stroke="#bf5752" stroke-width="0.7"/><circle cx="1440.3" cy="289.3" r="5.75" fill="#e67670" stroke="#bf5752" stroke-width="0.7"/><circle cx="1450.7" cy="295.9" r="5.75" fill="#e67670" stroke="#bf5752" stroke-width="0.7"/><circle cx="1456.1" cy="290.4" r="5.75" fill="#e67670" stroke="#bf5752" stroke-width="0.7"/><circle cx="1458.3" cy="292.1" r="5.75" fill="#e67670" stroke="#bf5752" stroke-width="0.7"/><circle cx="1390.9" cy="294.8" r="5.75" fill="#e67670" stroke="#bf5752" stroke-width="0.7"/><circle cx="1397.9" cy="292.6" r="5.75" fill="#e67670" stroke="#bf5752" stroke-width="0.7"/><circle cx="1403.9" cy="290.4" r="5.75" fill="#e67670" stroke="#bf5752" stroke-width="0.7"/><circle cx="1496.8" cy="295.3" r="5.75" fill="#e67670" stroke="#bf5752" stroke-width="0.7"/><circle cx="1506.6" cy="297.0" r="5.75" fill="#e67670" stroke="#bf5752" stroke-width="0.7"/><circle cx="1162.9" cy="286.1" r="5.75" fill="#e67670" stroke="#bf5752" stroke-width="0.7"/><circle cx="1169.9" cy="282.6" r="5.75" fill="#e67670" stroke="#bf5752" stroke-width="0.7"/><circle cx="1174.5" cy="286.1" r="5.75" fill="#e67670" stroke="#bf5752" stroke-width="0.7"/><circle cx="1178.6" cy="290.8" r="5.75" fill="#e67670" stroke="#bf5752" stroke-width="0.7"/><circle cx="1184.4" cy="287.9" r="5.75" fill="#e67670" stroke="#bf5752" stroke-width="0.7"/><circle cx="1164.1" cy="296.6" r="5.75" fill="#e67670" stroke="#bf5752" stroke-width="0.7"/><circle cx="1175.7" cy="297.8" r="5.75" fill="#e67670" stroke="#bf5752" stroke-width="0.7"/><circle cx="1184.4" cy="298.3" r="5.75" fill="#e67670" stroke="#bf5752" stroke-width="0.7"/><circle cx="1159.4" cy="290.8" r="5.75" fill="#e67670" stroke="#bf5752" stroke-width="0.7"/></svg>
</div><script>(function(){var w=window.innerWidth;if(w&&Math.abs(w-2880)>4){var r=document.getElementById("root");r.style.transform="scale("+(w/2880)+")";}})();</script></body></html>
